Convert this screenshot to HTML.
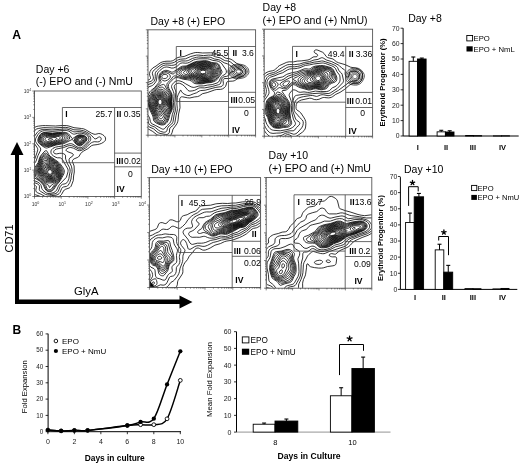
<!DOCTYPE html><html><head><meta charset="utf-8"><style>html,body{margin:0;padding:0;background:#fff;}svg{display:block;filter:blur(0.3px);}text{font-family:"Liberation Sans",sans-serif;}</style></head><body><svg width="520" height="467" viewBox="0 0 520 467" font-family="Liberation Sans, sans-serif">
<rect width="520" height="467" fill="#fff"/>
<text x="12.3" y="38.9" font-size="12.2" text-anchor="start" font-weight="bold" >A</text>
<text x="12.6" y="334.4" font-size="12.0" text-anchor="start" font-weight="bold" >B</text>
<path d="M15,300 V155 H10.5 L17,142 L23.5,155 H19 V300 Z" fill="#000"/>
<path d="M15,299.5 H179.5 V295.5 L192.5,302 L179.5,308.5 V304 H15 Z" fill="#000"/>
<text x="12.7" y="238.5" font-size="11" text-anchor="middle" transform="rotate(-90 12.7 238.5)">CD71</text>
<text x="86.3" y="294.5" font-size="11.3" text-anchor="middle" >GlyA</text>
<text x="35.8" y="72.5" font-size="10.5" text-anchor="start" >Day +6</text>
<text x="35.8" y="84.7" font-size="10.6" text-anchor="start" >(-) EPO and (-) NmU</text>
<clipPath id="p6"><rect x="34.5" y="91" width="106.80000000000001" height="105.5"/></clipPath>
<g fill="none" stroke="#000" stroke-width="0.8" stroke-linejoin="round" clip-path="url(#p6)"><path d="M50.8 174.1l-0.8 0.1-1-0.2-0.6-0.5-0.5-0.7-0.2-1 0.2-0.8 0.6-0.8 0.5-0.3 0.8-0.2 1 0.2 0.7 0.6 0.4 0.7 0.2 1-0.2 0.8-0.4 0.6-0.7 0.5M50.5 175l-1.3-0.1-1-0.4-0.9-1-0.4-1 0-1.3 0.3-0.9 0.8-0.8 1-0.5 1.2 0 1.2 0.5 0.8 0.8 0.6 1.2 0 1.3-0.4 1-0.9 0.8-1 0.4M50.8 175.8l-1.6-0.1-1.2-0.5-1.1-1-0.9-1.4-0.2-1.3 0.2-1.3 1-1.2 1.2-0.7 1.6-0.2 1.4 0.4 1.3 1 0.9 1.5 0.2 1.5-0.4 1.5-1 1.2-1.4 0.6M51 176.5l-1.8 0-1.7-0.7-1.4-1.3-1-1.7-0.4-1.6 0.2-1.4 1-1.3 1.3-0.8 2-0.4 2 0.4 1.6 1.1 1.2 1.7 0.4 2.3-0.4 1.7-0.5 0.7-0.7 0.7-1.8 0.6M51 177.3l-2-0.1-2-0.9-1.6-1.5-1.3-2-0.4-1.8 0.2-1.8 1.1-1.4 1.5-0.9 2.3-0.5 2.4 0.5 2 1.2 1.3 1.9 0.5 1.5 0.2 1.3-0.1 1.2-0.3 0.9-0.6 0.9-0.9 0.7-1.1 0.5-1.2 0.3M50.5 178l-2.3-0.3-2-1.1-2-2.2-1.2-2.4-0.2-2 0.5-1.8 1.3-1.4 1.9-1.1 1.3-0.3 1.4 0.1 1.6 0.3 1.4 0.6 1 0.7 1 1 1.3 2.4 0.3 1.5 0.1 1.5-0.2 1.3-0.5 1-0.8 1-1.2 0.6-1.2 0.4-1.5 0.2M52 178.5l-2.8 0.1-1.2-0.2-1.2-0.6-2.3-2-1.9-2.8-0.4-1.2-0.2-1.3 0.4-2.3 1.4-2 2-1.4 1.2-0.4 1.2 0 1.8 0.3 1.8 0.6 1.2 0.6 1.1 0.9 0.8 1 0.7 1.2 0.6 1.8 0.4 2 0 1.4-0.3 1.3-0.5 1-1 1-1.3 0.6-1.5 0.4M50.8 140.3l-1.2-0.1-0.8-0.2-0.4-0.2-0.1-0.6 0.7-0.4 1-0.2 1.8 0.1 0.7 0.3 0.2 0.2-0.4 0.6-1.5 0.5M52 179.3l-3.2 0-1.3-0.3-1.3-0.6-1.2-1-1.3-1.4-1.2-1.7-0.7-1.5-0.4-1.3-0.1-1.3 0.1-1.2 0.4-1.2 0.7-1.4 1-1.3 1.3-1.1 1-0.6 1.2-0.2 1.5 0.1 2.3 0.6 1.8 0.9 1.4 0.8 0.9 0.9 0.9 1.2 0.6 1.3 0.6 2 0.4 2-0.1 1.5-0.4 1.5-0.7 1.2-1 0.9-1.4 0.7-1.8 0.5M50 141.8l-2.2-0.2-1.8-0.8-0.9-1-0.1-0.8 0.2-0.5 0.6-0.5 0.9-0.5 2.1-0.3 6.2 0.3 1.2 0.2 0.6 0.3 0.1 0.5-0.3 0.5-2.1 1.5-2.3 0.9-2.2 0.4M51.8 180l-3.6 0-1.2-0.3-1.2-0.6-1.3-1.1-1.7-2-1.2-1.8-0.6-1.3-0.3-1.4-0.1-1.5 0.2-1.2 0.4-1.5 1-1.9 1.3-1.7 1-1.1 1-0.6 1.3-0.2 1.7 0.4 2.7 1 2.2 1 1.3 1 1.1 1.2 0.7 1.2 0.7 1.6 0.6 2.3 0.3 2-0.2 1.7-0.5 1.6-0.9 1.2-1.3 1-1.4 0.6-2 0.4M51 142.5l-1.8 0.2-1.4-0.1-1.6-0.4-1.4-0.6-1-0.8-0.5-0.8-0.2-1 0.4-1 0.7-0.8 1-0.4 2.8-0.6 4.8 0.3 5.2-0.1 1.5 0.4 0.7 0.6 0.1 0.6-0.2 0.5-1.4 1-4.7 2.2-3 0.8M80 141.3l-0.8-0.1-0.4-0.4-0.3-1 0.3-0.6 0.4-0.4 1.3-0.3 0.9 0.5 0.3 0.8-0.6 1-1.1 0.5M52 180.8l-4 0-1.2-0.2-1.3-0.6-1.3-1-2-2.5-1.1-1.7-0.7-1.6-0.4-1.4-0.1-1.6 0.5-2.7 0.8-1.8 2.3-3.9 0.7-0.9 0.8-0.5 1-0.1 1.5 0.4 3.7 1.5 2.6 1.4 1.4 1.2 1 1.1 0.9 1.3 0.7 1.8 0.7 2.5 0.2 2-0.1 1.7-0.6 1.8-1 1.5-1.2 1.1-1.8 0.7-2 0.5M51 143.3l-2.2 0.2-2-0.2-2-0.5-1.5-0.8-1-1-0.4-1 0-1.2 0.6-1.5 0.7-0.7 1.1-0.6 1.5-0.4 1.7-0.1 5.3 0.3 6.4-0.3 2.1 0.5 0.8 0.5 0.4 0.5 0.2 0.8-0.3 0.7-1.5 1.3-6.9 2.7-3 0.8M79.8 142.3l-1-0.3-0.9-0.8-0.4-1 0.2-1.2 0.8-0.8 1-0.5 1.3-0.1 1.1 0.4 0.7 0.5 0.2 0.5 0.1 0.5-0.2 0.7-0.5 0.8-0.9 0.8-1.5 0.5M50.8 181.8l-3.8-0.1-1.2-0.4-1-0.6-1.5-1.5-2.3-3-0.9-1.4-0.6-1.8-0.3-2.8 0.5-2.7 3.4-7.3 0.8-1 0.9-0.5 1 0 1 0.4 5 2.5 3.3 2.2 1.3 1.2 1.1 1.5 0.8 1.7 0.7 2.3 0.4 2.3-0.1 2-0.7 2.2-0.9 1.8-1.2 1.2-1.5 0.8-2 0.7-2.2 0.3M50.5 144l-2.5 0.2-2.2-0.2-2-0.7-1.7-1.1-1-1.2-0.3-1.2 0.3-1.8 0.9-1.5 1.5-1.1 2.3-0.5 2.2-0.1 5 0.4 6-0.5 2 0.2 1.4 0.3 1.1 0.6 0.8 1 0.2 0.7-0.2 1-0.9 1-1.1 0.7-1.8 0.8-6.8 2.2-3.2 0.8M80 143l-1.5-0.2-1.2-1-0.6-1.3 0.2-1.5 0.9-1.1 1.2-0.7 1.5-0.3 1.7 0.4 0.9 0.5 0.7 0.7 0.1 0.7-0.1 0.8-0.6 1-1.1 1-1.1 0.7-1 0.3M52 182.8l-2.2 0.2-2.3-0.1-1.5-0.4-1.2-0.7-1.8-1.6-2.4-3-1.1-1.7-0.6-1.5-0.5-3.5 0.4-2.7 2.2-4.8 1.5-3.8 0.9-1.2 1.1-0.7 1 0 1 0.4 5.7 3.3 3.3 2.3 1.3 1.2 1.1 1.5 0.9 1.8 0.8 2 0.5 2.2 0 2-0.5 2.2-1.1 2.5-1 1.3-1.5 1.2-2 1-2 0.6M50 144.8l-2.5 0.1-2.5-0.3-2.2-0.9-1.8-1.3-0.8-1.4-0.2-1.8 0.7-2.2 1.2-1.5 1.3-0.8 2.1-0.5 2.2 0 5.3 0.5 5-0.6 2.4 0 2 0.2 1.7 0.5 1.3 0.7 0.8 1 0.2 1.3-0.3 1-0.9 1-1.5 1-2.4 1-8.9 2.5-2.2 0.5M80 143.8l-1-0.1-0.8-0.3-1.4-1.2-0.8-1.7 0-1 0.3-0.7 1.2-1.5 1.7-0.8 2-0.1 2 0.6 1 0.7 0.6 0.8 0.1 0.7-0.4 1-0.7 1-1.3 1.3-1.3 0.8-1.2 0.5M49.5 187.5l-0.3-0.3-0.3-1.4-0.4-0.6-3-1.7-1.5-1.1-4.3-4.6-1.2-1.9-0.6-2.1-0.3-3.8 0.5-2.5 2.1-4.4 1.8-4.9 1.2-1.5 1.6-0.7 0.7 0 1 0.4 2.5 1.8 4.2 2.7 3.6 2.6 1.3 1.5 1.2 2 1 2.2 0.5 2 0.1 1.8-0.3 2-1 2.8-1.1 2-2 2.1-5.2 3.3-0.6 0.8-0.7 1.2-0.5 0.3M49.5 145.5l-2.7 0.2-2.6-0.5-2.4-1.2-1.9-1.8-0.6-1.7 0.2-2 1-2.4 1.5-1.6 1.5-0.6 1.7-0.3 2.3 0.1 5 0.4 5.7-0.6 3.8 0 2 0.3 1.5 0.5 1.3 0.9 0.8 1 0.4 1.6-0.4 1.2-1.3 1.2-2.1 1.3-2.4 0.9-4.6 1-5.4 1.7-2.3 0.4M79.8 144.5l-1-0.1-1-0.5-0.9-0.7-0.9-1-0.5-1-0.2-1 0-1 0.3-0.7 0.8-1 0.8-0.7 2-0.9 2.6 0.1 2.3 0.8 1 0.7 0.5 1 0 1-0.4 1-1 1.3-2 1.6-1.2 0.8-1.2 0.3M50.2 189.8l-1.4 0.1-1.3-0.8-0.6-0.9-1.2-3-7.7-7.7-0.7-1-0.4-1.3-0.2-5.4 0.4-2.3 2.4-4.5 1.3-4.2 0.7-1.4 1.7-1.9 1.8-0.8 0.8 0 0.7 0.4 2.7 2.4 4 2.6 4.5 3.4 1.5 1.7 1.2 2 0.9 2 0.5 1.8 0.1 1.5-0.3 1.7-1.2 3.3-1.2 2.3-1.2 1.7-3.7 3.5-2.6 3.8-1.5 1M48 146.5l-2.8-0.1-2.2-0.8-2.6-1.8-1-1-0.5-1-0.3-1-0.1-1 0.7-2.6 1.3-2.2 1.7-1.4 1.3-0.4 1.7-0.2 7.3 0.6 6-0.6 5.5 0 1.8 0.4 1.3 0.6 1.2 1 1 1.5 0.4 1.5-0.4 1.2-1.4 1.3-3.1 1.7-2.6 1-5.2 0.9-6.5 2-2.5 0.4M80.8 145l-0.8 0.2-1 0-1-0.4-1-0.7-1-0.9-0.9-1.2-0.7-2 0.2-1.2 1.1-1.6 1.8-1.2 2-0.6 2.3 0 2.4 0.8 1.6 1 0.5 1.3-0.1 1.5-1 1.4-2.7 2.6-1.7 1M50.5 190.8l-1 0.2-1-0.1-1.6-0.9-1-1.2-1.2-3-1.2-1.8-3.3-3.3-4.1-3.2-0.6-1.3 0.3-3.4-0.1-3.6 0.4-1.7 2.7-4.5 1.4-4.8 0.8-1.6 2-2.2 1.2-0.9 1-0.4 0.8 0 0.5 0.2 3.1 3.5 7.4 5.2 1.7 1.5 1.5 1.7 1.4 2.3 1 2 0.4 1.5 0 1.5-0.4 1.5-2.9 6.2-1.1 1.6-3 3.2-2.9 4.2-1.1 1-1.1 0.6M47.5 147.8l-1 0.2-1-0.2-2.7-1.4-3.3-2.6-0.8-1-0.7-1.3-0.2-1 0.1-1.3 1.3-3.2 1.6-2.1 2-1.1 1.2-0.3 1.8 0 6.7 0.6 5.7-0.6 5-0.2 2 0.1 1.8 0.5 1.5 0.9 1.3 1.4 2.2 3.2 0.5 0.3 4.5-3.1 1.5-0.6 1.5-0.2 2.5 0.3 2.3 0.7 1.4 1.1 0.7 1.3 0.1 0.8-0.2 1-1 1.7-3.6 3.2-1.7 1-0.7 0-1-0.1-2-1.1-1.8-1.7-2.2-3.2-0.6-0.4-6 3.1-2.4 1.1-7.8 1.4-8.5 2.8M50.8 191.5l-1.3 0.2-1.3-0.1-1-0.4-0.9-0.7-1.2-1.5-1.7-3.8-1.4-2-2.8-2.5-4.2-2.5-0.6-0.7-0.3-1 0-1 0.6-3-0.1-3.7 0.5-1.6 3.1-4.7 1.4-4.7 0.9-1.8 3.5-4.1 1-0.9 0.8-0.3 0.7 0.1 0.5 0.4 1.9 3.6 1.2 1.4 8.5 6 1.6 1.6 3.1 4.4 0.7 1.6 0.3 1.2-0.1 1.5-0.4 1.5-3.7 6.8-3.3 4-3.3 5-1.3 1-1.4 0.7M32.5 166.3l3.5-5.1 2-5.7 2.7-5.5 0-1-0.3-1-4-5-0.8-1.5-0.3-1.5 0.5-1.8 2.4-4 1.2-1.4 1.6-1.2 1.5-0.6 1.7-0.3 8 0.7 11.8-1 2.2 0 1.5 0.4 1.3 0.4 3.2 2.4 1.3 0.5 1.3 0 2.7-0.8 1.7-0.2 2 0.1 2.8 0.6 1.5 0.6 1.3 0.7 1 0.9 0.7 1 0.3 1 0.1 1.2-0.2 1-0.7 1.3-1.3 1.5-3.2 3.2-1.3 1-1 0.4-1.2 0.3-1.5-0.3-1.5-0.7-4-2.6-1.2-0.5-1.6-0.1-2 0.4-4.7 1.8-5.3 0.7-2.7 0.6-2.5 1.1-1.5 1.5-0.5 1.1-0.1 1.3 0.3 1.3 0.6 1 1.7 1.5 2.5 1.4 1.5 0.4 2.7 0 1.3 0.7 2 2.6 2.1 4.1 1.7 2.8 0.5 1 0.3 1.2-0.1 1.3-0.3 1.5-0.9 3-0.6 1.5-6.7 7-1.1 1.7-1.7 3.8-1.6 1.8-2 1-3.1 0.6-2 0.1-1.8-0.6-2.2-1.7-1.7-1.7-0.5-1-0.7-3-0.5-1-0.8-1-2-1.4-4-1.6-1.3-1.1M32.5 162.7l1.4-1.9 0.9-1.8 2.4-7 0.6-2.2-0.1-1-0.4-1-2.9-4.3-1.1-2-0.3-1.5 0.1-1.2 0.7-1.6 3.6-5 1.1-1 1.7-1 2-0.7 1.8-0.2 8 0.6 7.8-0.5 4.4-0.4 2.6 0 2.2 0.6 3.5 1.7 1.3 0.5 1.2 0.1 3-0.3 1.8 0 2.2 0.3 2.5 0.7 2 0.9 1.7 1.2 1.4 1.3 0.8 1.2 0.3 1.3 0 1-0.3 1-0.7 1-4.9 5.4-1.8 1.3-1.5 0.7-1.5 0.3-1.5-0.2-5.5-2.9-1.8-0.5-1.4 0-1.8 0.3-4.5 1.7-6.9 1.4-1.6 0.8-1 1-0.3 0.7 0 1 0.5 0.7 0.8 0.5 1.5 0.2 3.3-0.6 2 0 2 0.5 1.4 1 0.4 1-0.1 2.2 0.3 1.5 1.7 4.3 2 3.7 0.6 2.5 0 1.8-0.7 3.2-0.5 3.5-0.4 1.4-0.7 1.5-1 1.4-0.8 0.6-0.9 0.4-2.6 0.5-1.5 1.1-1 1.5-1.6 4.1-1.4 1.8-1 0.6-1.2 0.4-5.3 0.9-2.3 0.2-1.7-0.5-5.1-3.2-0.8-0.7-0.3-1 0.2-3.3-0.4-1-0.6-0.7-1.3-0.8-3.2-1.2-1.5-0.9M32.5 135.2l1.6-3.7 0.7-1 1.4-1.3 2-0.7 5.6-0.9 9.7 0.4 9.5-0.6 2.8 0 2.7 0.4 5.4 2 6.1 0.2 3.8 0.8 2.4 1.1 3.5 2.1 1.8 1.5 2.5 2.7 0.8 0.6 0.4 0.1 0.8-0.1 2.5-1.6 1-0.3 0.7 0.3 0.6 0.4 0.3 0.6 0.1 0.8-0.2 0.8-0.5 0.8-0.7 0.6-0.8 0.5-1.5 0.2-3.3-0.2-1.4 0.4-1.3 0.6-1.9 1.3-2.6 2.8-1.4 1.2-2.6 1.6-2 0.9-1.5 0.2-1.5-0.2-4.5-2.3-1.4-0.4-1.3-0.3-1.3 0.1-1.3 0.4-1.3 0.8-0.8 0.7-0.2 0.7 0.6 0.8 1.4 0.8 4.3 1.6 0.8 0.6 0.4 0.8-0.5 1-3.2 2.4-0.5 0.8-0.2 0.8 0.3 2.2 2.1 4.2 0.6 3 0.1 2.6-0.7 3.4-0.4 3.8-1.2 3.5-1.6 2.7-0.7 0.7-1 0.5-3.1 0.6-1 0.5-0.7 1-1.7 4-1 1.2-1 0.8-2 0.7-4.5 0.4-4.3 0.9-1.4 0-1.3-0.3-3.3-1.9-3.4-1.4-1.3-0.8-0.5-0.9-0.2-1 0.6-3 0-0.7-0.7-0.7-3.2-2.1M32.5 158.3l1.7-3.8 0.5-3-0.4-2.3-1.8-4.4M32.5 128.8l2-1.4 2.3-1 1.7-0.3 4.3-0.5 2.7 0 10 0.4 6.7-0.5 4.6 0.1 2.2 0.5 5 1.6 7.5 0.8 2.3 0.4 2 0.9 5.7 3.4 2.5 1 1.5 0.1 3.3-0.8 2 0.3 1.7 0.8 1.6 1.2 0.9 1 0.5 1.2 0.1 1.2-0.3 1.3-0.6 0.7-1.2 1-2 1.2-1.7 0.6-2.6 0.6-4.2 0.5-1.7 0.7-3.5 2.9-4.1 2.3-2.1 1.5-1.1 1.3-1.3 2.3-0.8 0.9-1.2 0.6-3 1.2-1.2 0.9-0.5 0.8-0.1 1 1.7 4.5 0.2 6-0.7 4-0.3 4.5-1.7 4.5-0.7 1.5-0.7 0.7-1 0.8-4 1.4-0.9 0.6-0.8 1-2 3.5-1.3 1.3-1.2 0.9-1 0.4-1.2 0.2-3.6-0.3-1.6 0-1.1 0.3-2.5 0.9M43.9 198.2l-1.7-0.6-3.2-1.7-3.2-1-1.3-0.6-1.2-1.1-0.8-1.5"/></g>
<rect x="34.5" y="91" width="106.80000000000001" height="105.5" fill="none" stroke="#555" stroke-width="0.9"/>
<path d="M34.50,196.50v2.2 M34.50,196.50h-2.2 M42.54,196.50v1.2 M34.50,188.56h-1.2 M47.24,196.50v1.2 M34.50,183.92h-1.2 M50.58,196.50v1.2 M34.50,180.62h-1.2 M53.16,196.50v1.2 M34.50,178.06h-1.2 M55.28,196.50v1.2 M34.50,175.98h-1.2 M57.06,196.50v1.2 M34.50,174.21h-1.2 M58.61,196.50v1.2 M34.50,172.68h-1.2 M59.98,196.50v1.2 M34.50,171.33h-1.2 M61.20,196.50v2.2 M34.50,170.12h-2.2 M69.24,196.50v1.2 M34.50,162.19h-1.2 M73.94,196.50v1.2 M34.50,157.54h-1.2 M77.28,196.50v1.2 M34.50,154.25h-1.2 M79.86,196.50v1.2 M34.50,151.69h-1.2 M81.98,196.50v1.2 M34.50,149.60h-1.2 M83.76,196.50v1.2 M34.50,147.84h-1.2 M85.31,196.50v1.2 M34.50,146.31h-1.2 M86.68,196.50v1.2 M34.50,144.96h-1.2 M87.90,196.50v2.2 M34.50,143.75h-2.2 M95.94,196.50v1.2 M34.50,135.81h-1.2 M100.64,196.50v1.2 M34.50,131.17h-1.2 M103.98,196.50v1.2 M34.50,127.87h-1.2 M106.56,196.50v1.2 M34.50,125.31h-1.2 M108.68,196.50v1.2 M34.50,123.23h-1.2 M110.46,196.50v1.2 M34.50,121.46h-1.2 M112.01,196.50v1.2 M34.50,119.93h-1.2 M113.38,196.50v1.2 M34.50,118.58h-1.2 M114.60,196.50v2.2 M34.50,117.38h-2.2 M122.64,196.50v1.2 M34.50,109.44h-1.2 M127.34,196.50v1.2 M34.50,104.79h-1.2 M130.68,196.50v1.2 M34.50,101.50h-1.2 M133.26,196.50v1.2 M34.50,98.94h-1.2 M135.38,196.50v1.2 M34.50,96.85h-1.2 M137.16,196.50v1.2 M34.50,95.09h-1.2 M138.71,196.50v1.2 M34.50,93.56h-1.2 M140.08,196.50v1.2 M34.50,92.21h-1.2 M141.30,196.50v2.2 M34.50,91.00h-2.2" stroke="#333" stroke-width="0.6" fill="none"/>
<path d="M62.4,162.7V107.5H141.3 M62.4,162.7H114.6 M114.6,107.5V196.5 M114.6,153.1H141.3 M114.6,166.8H141.3" fill="none" stroke="#444" stroke-width="0.8"/>
<text x="65.3" y="117.3" font-size="8.6" text-anchor="start" font-weight="bold" >I</text>
<text x="112.3" y="117.3" font-size="8.6" text-anchor="end" >25.7</text>
<text x="116.6" y="117.3" font-size="8.6" text-anchor="start" font-weight="bold" >II</text>
<text x="140.5" y="117.3" font-size="8.6" text-anchor="end" >0.35</text>
<text x="116.2" y="163.8" font-size="8.6" text-anchor="start" font-weight="bold" >III</text>
<text x="140.8" y="163.8" font-size="8.6" text-anchor="end" >0.02</text>
<text x="130.4" y="177.3" font-size="8.6" text-anchor="middle" >0</text>
<text x="116.6" y="192.3" font-size="8.6" text-anchor="start" font-weight="bold" >IV</text>
<text x="31.3" y="198.3" font-size="5" text-anchor="end" fill="#333">10<tspan dy="-2" font-size="3.6">0</tspan></text>
<text x="35.5" y="205.5" font-size="5" text-anchor="middle" fill="#333">10<tspan dy="-2" font-size="3.6">0</tspan></text>
<text x="31.3" y="171.9" font-size="5" text-anchor="end" fill="#333">10<tspan dy="-2" font-size="3.6">1</tspan></text>
<text x="62.2" y="205.5" font-size="5" text-anchor="middle" fill="#333">10<tspan dy="-2" font-size="3.6">1</tspan></text>
<text x="31.3" y="145.6" font-size="5" text-anchor="end" fill="#333">10<tspan dy="-2" font-size="3.6">2</tspan></text>
<text x="88.9" y="205.5" font-size="5" text-anchor="middle" fill="#333">10<tspan dy="-2" font-size="3.6">2</tspan></text>
<text x="31.3" y="119.2" font-size="5" text-anchor="end" fill="#333">10<tspan dy="-2" font-size="3.6">3</tspan></text>
<text x="115.6" y="205.5" font-size="5" text-anchor="middle" fill="#333">10<tspan dy="-2" font-size="3.6">3</tspan></text>
<text x="31.3" y="92.8" font-size="5" text-anchor="end" fill="#333">10<tspan dy="-2" font-size="3.6">4</tspan></text>
<text x="142.3" y="205.5" font-size="5" text-anchor="middle" fill="#333">10<tspan dy="-2" font-size="3.6">4</tspan></text>
<text x="150.5" y="24.6" font-size="10.5" text-anchor="start" >Day +8 (+) EPO</text>
<clipPath id="p8a"><rect x="148" y="29.8" width="107.6" height="105.39999999999999"/></clipPath>
<g fill="none" stroke="#000" stroke-width="0.8" stroke-linejoin="round" clip-path="url(#p8a)"><path d="M204.2 73.6l-1.7 0.2-1.5-0.4-0.9-0.8-0.2-0.6 0.2-0.4 0.8-0.8 1.3-0.5 1.6 0 1.2 0.3 0.8 0.7 0.2 0.8-0.6 0.9-1.2 0.6M160.5 104.6l-0.7 0-0.8-0.4-0.5-0.8-0.3-0.8 0-1 0.3-1 0.5-0.7 0.8-0.4 0.7 0 0.5 0.3 0.6 0.8 0.3 1 0 1-0.3 1-0.6 0.7-0.5 0.3M204.2 74.3l-2.2 0.1-1.8-0.6-0.7-0.5-0.5-0.7-0.1-0.8 0.3-0.5 1.1-1 1.9-0.6 2 0 1.9 0.6 0.9 1 0.2 0.5-0.2 0.8-1 1-1.8 0.7M160.5 105.6l-1-0.1-1-0.7-0.6-1-0.3-1.2 0-1.3 0.4-1.3 0.8-1 1-0.4 1 0.1 0.8 0.6 0.7 1 0.3 1.3 0 1.2-0.4 1.2-0.7 1-1 0.6M204.5 75.1l-2.5 0-1.2-0.3-1.3-0.6-0.9-0.6-0.5-0.8-0.2-1 0.3-0.8 0.7-0.7 0.9-0.5 2.4-0.7 2.6 0 2.2 0.8 0.8 0.7 0.4 0.7 0.1 0.7-0.3 0.8-0.5 0.8-1 0.7-2 0.8M160.2 106.6l-1.2-0.3-1-1-0.8-1.5-0.3-1.8 0.3-1.7 0.6-1.3 1-0.9 1.2-0.4 1.2 0.3 1 0.8 0.8 1.2 0.4 1.8-0.2 1.8-0.7 1.4-1 1.1-1.3 0.5M205 75.8l-1.5 0.2-1.7-0.2-1.6-0.4-1.4-0.8-1-0.8-0.8-1-0.1-1 0.3-1 0.7-0.8 1.2-0.7 1.2-0.5 1.7-0.4 3.2 0.1 1.6 0.4 1.2 0.6 0.9 0.8 0.4 0.7 0.1 0.8-0.2 1-0.7 1-1 0.9-1.3 0.7-1.2 0.4M160.5 107.6l-0.7 0-0.8-0.3-1.2-1.1-1-1.8-0.5-2.1 0.2-2 0.7-1.7 1-1.1 1.6-0.6 1.4 0.3 1.6 1.1 1 1.5 0.4 2-0.2 1.9-0.8 1.7-1.2 1.4-1.5 0.8M205.5 76.6l-1.7 0.2-1.8-0.2-1.8-0.5-1.5-0.8-1.5-1-1.1-1.3-0.5-1.2 0.3-1 0.9-1 1.2-0.8 1.7-0.7 1.8-0.4 2-0.2 1.9 0.1 1.6 0.4 1.5 0.7 1 0.7 0.7 1 0.3 1-0.2 1.2-0.8 1.2-1.3 1.3-1.2 0.8-1.5 0.5M160.8 108.6l-1 0.1-0.8-0.2-1.5-1.3-1.3-2.3-0.6-2.6 0.2-2.3 0.9-2 1.3-1.2 1.8-0.6 1.7 0.3 1.8 1.3 1.2 1.9 0.5 2.1-0.1 2-0.9 2-1.5 1.8-1.7 1M205.8 77.3l-2 0.2-1.8-0.2-1.5-0.4-1.7-0.8-2.4-1.5-1.7-1.6-0.8-1.2 0.1-1 1-1 2.2-1.2 1.9-0.8 2.1-0.5 2.3-0.2 2 0 1.7 0.4 1.8 0.8 1.4 1 0.8 1 0.3 1.3-0.3 1.2-0.8 1.5-1.4 1.5-1.5 1-1.7 0.5M160 110.1l-1-0.2-0.8-0.4-1.4-2-1.4-2.9-0.5-3 0.4-2.3 1.2-2.2 1.5-1.2 1-0.4 1-0.1 1.2 0.2 1 0.5 2 1.7 1.3 2.2 0.4 2.6-0.3 2.2-1.1 2-2.5 2.4-1 0.6-1 0.3M205.2 78.1l-2 0-1.7-0.2-1.5-0.4-1.5-0.8-6.3-4.1-0.6-1-0.1-0.6 0.3-0.7 0.7-0.7 1.7-0.8 4.6-1.6 3-0.6 2.2-0.2 2 0.1 1.8 0.5 2 1 1.5 1 0.9 1.3 0.2 1.3-0.3 1.4-1.3 2.1-1.8 1.7-1.5 0.8-2.3 0.5M160 111.6l-1-0.1-0.8-0.4-0.7-0.7-0.7-1.1-2-4.5-0.6-2-0.1-1.5 0.2-1.3 0.4-1.2 1.4-2.2 0.9-0.9 1-0.6 2-0.4 1.2 0.2 1.3 0.5 1.3 0.9 1.2 1.3 0.8 1.2 0.5 1.2 0.4 3.3-0.2 2.1-0.8 1.6-3.7 3.5-1 0.7-1 0.4M206.2 78.6l-4.2 0.1-1.5-0.3-1.3-0.5-8.5-4.9-0.5-0.5-0.3-0.7 0-0.8 0.2-0.7 1.1-1.3 1.6-0.8 6-1.6 2.4-0.6 2.6-0.2 2 0.1 2 0.5 2.1 0.9 1.9 1.3 1.1 1.2 0.4 1.2-0.2 1.6-1.2 2.2-1.9 2.2-1.6 1-2.2 0.6M160.5 112.9l-1 0.1-1-0.3-1-0.7-0.8-1-0.9-1.7-1-2.6-1.3-3.4-0.3-1.7 0.1-1.3 0.5-1.3 1.8-3 1.9-1.5 1-0.4 1.3-0.2 1.4 0.1 1.6 0.7 1.5 1.1 1.5 1.5 0.7 1.2 0.5 1.3 0.6 4.2-0.1 2.3-0.7 1.4-5 4.4-1.3 0.8M204.5 79.3l-2.7 0-1.8-0.3-5-2.9-5-2.2-1.1-0.9-0.4-0.7 0-1 0.4-1 1.6-1.7 2-1.2 6-1.4 3.5-0.7 2.5-0.2 1.8 0.2 2.2 0.7 2.7 1.3 1.7 1.3 1.1 1.4 0.2 1.8-0.8 2-1.9 2.8-1.7 1.5-2 0.8-3.3 0.4M160.5 114.3l-1 0-1.3-0.5-1-0.8-1-1.2-1.4-3-2.3-5.8-0.4-1.4 0.2-1.3 0.6-1.3 1.3-2.3 1.3-1.6 2-1.5 1.3-0.4 1.2-0.2 1.5 0.2 1.7 0.8 2 1.5 1.4 1.5 0.7 1.3 0.5 1.5 0.7 5.5-0.2 2-0.7 1.3-3.1 2.3-2.7 2.8-1.3 0.6M205.2 79.8l-3.7 0.2-2.3-0.5-4.3-2.7-5.2-2-2-1-0.9-1-0.1-0.5 0.2-0.7 1.2-1.8 1.9-1.8 1.8-1 2.2-0.8 6-1.2 4.2-0.5 2.6 0.3 2.7 1 3 1.5 1.7 1.4 0.9 1.6 0.1 1-0.2 1-0.7 1.5-1.3 2-1.1 1.5-1.1 1-2.1 1-3.5 0.5M160.8 116.1l-1-0.2-1.3-0.7-1.5-1.3-1.2-1.5-1.4-2.6-3-7-0.3-1.2 0.1-1 0.4-1 3.6-5.3 1-0.9 1.3-0.8 1.3-0.4 1.2-0.2 1.5 0.2 1.7 0.7 2.8 2.1 1.4 1.6 0.6 1.1 0.4 1.3 0.8 6.8-0.2 2-0.8 1.4-3.4 2.8-2.8 3.4-1.2 0.7M203 80.6l-2.2 0-1.8-0.4-3.5-2.3-1.5-0.8-9.4-3.1-0.9-0.7-0.2-0.5 0.1-0.5 0.6-0.7 2-1.4 3-2.4 2.6-1.5 3.2-1 7.2-1.2 2.8-0.2 2 0.3 5.2 2.2 2.4 1.4 0.8 1 0.5 1 0.2 1-0.1 1.2-0.8 2-2.7 3.8-1.5 1.2-1.8 0.8-6.2 0.8M161 118.8l-0.9-0.2-0.9-0.8-4.1-5.2-4.6-9.6-0.4-1.7 0.2-1 0.4-1 4.5-6.1 1.3-1.1 1.3-0.7 1.2-0.4 1.2-0.2 1.6 0.2 1.7 0.8 3.3 2.5 1.4 1.5 0.4 1 0.4 1.2 0.8 8-0.2 2-0.6 1.6-3.8 3.4-2.7 5-0.7 0.6-0.8 0.2M201.8 81.3l-1.8 0-1.5-0.4-3.7-2.6-2.4-1-3.6-1-4.3-0.7-1.3-0.4-1-0.7-0.9-0.9-0.4-1 0.2-0.8 0.5-0.8 0.7-0.4 3.7-1.4 4.1-2.6 2.7-1.3 3-0.9 7.2-1 2.2-0.2 2 0.4 6.7 2.7 1.6 1 0.8 1 0.5 1.3 0.3 1.4-0.1 1.3-0.9 2-3.1 4.1-1.5 1.2-1.7 0.7-8 1M161.8 120.8l-1 0-1-0.3-0.8-0.5-0.8-0.9-1.4-2.8-2.2-3.3-1.2-2.2-3.7-7.8-0.4-1.7 0.1-1.3 0.5-1 2.1-2.6 3-4.2 1.5-1.3 1.5-0.9 1.5-0.6 1.3-0.2 1.2 0.2 1.5 0.8 4.3 3.5 1.2 1.5 0.6 2.1 0.8 9-0.2 2-0.6 1.5-3.6 4-0.6 1.2-1.1 3.3-0.7 1.3-0.8 0.8-1 0.4M202.8 81.8l-2.3 0.2-2-0.2-1.6-0.8-2.9-2.2-1.7-0.8-3.5-0.9-4.6-0.5-1.7-0.5-1.7-1.1-1.4-1.2-0.4-1 0.1-1 1-1.2 1.5-1 4.6-1.4 4.3-2.5 2.5-1.1 3.8-1 7-1 2.2 0 1.5 0.4 3.7 1.5 3.6 1.1 1.2 0.7 1 1.2 0.7 1.5 0.4 1.8 0 1.5-0.8 2-3.1 4-1.7 1.5-1.7 0.8-1.8 0.4-6.2 0.8M165.2 78.6l-1.7 0-0.7-0.3-0.8-0.7-0.2-1.3 0.3-0.7 0.7-0.6 1.2-0.6 1.2 0 1.5 0.4 0.8 0.8 0.2 0.7-0.4 1-0.9 0.7-1.2 0.6M162.2 122.1l-1.4 0-1.3-0.3-1.2-0.8-0.9-1-1.6-3.7-3-5.3-3.7-7.7-0.6-2.3 0.2-1.2 0.4-1 2.5-3 1.9-3.1 1-1.3 2-1.8 2-1.5 1.7-0.8 1.6-0.2 1 0.2 1 0.7 2 2.3 3 2.8 1 1.5 0.5 2.2 0.1 4.2 0.5 5.8-0.1 1.6-0.5 1.4-0.8 1.2-2.5 3.3-2 5.6-1.1 1.4-1.7 0.8M202.2 82.6l-2.2 0.1-2.2-0.3-1.8-0.8-2.8-2.2-1.9-0.8-2.8-0.8-4.5-0.3-2-0.5-4.7-2.7-0.5-0.7 0.2-1 0.5-1 0.9-1 2.6-1.9 1.5-0.5 3.7-0.8 6.6-3.4 3.4-1.1 7.6-0.9 2.2 0 1.8 0.4 4 1.6 4 0.8 1.2 0.7 0.8 1 0.5 1.3 0.9 3 0.2 1.5-0.3 1-0.6 1-3.3 4.3-1.7 1.5-2.3 1-1.7 0.4-4.3 0.5-3 0.6M165.8 80.8l-1.6 0.2-1.7-0.8-1.4-1.4-0.6-1.5 0.1-1.5 0.9-1.4 1.5-1.1 1.8-0.4 1.7 0 1.8 0.7 1.5 1.2 0.5 1.2-0.2 1.6-0.9 1.2-1.4 1.1-2 0.9M162.8 123.1l-1.8 0.1-1.8-0.5-1.6-0.9-1.3-1.2-0.5-1-1-3.6-3.4-6.2-3.1-6.8-0.4-1.2-0.1-1.2 0.2-1.3 0.6-1.3 2.3-2.7 1.9-3.3 1.3-1.4 3.4-3.3 1.5-1.2 2.5-1.2 2-0.5 0.7 0.3 0.6 0.5 1.8 3.8 2.9 3.6 1.1 2 0.4 2-0.1 4.7 0.4 6-0.1 1.5-0.4 1.2-2.7 4.3-1.3 4.3-0.8 1.8-0.8 1.1-0.7 0.8-1.7 0.8M162.5 124.1l-2-0.1-2-0.7-2.1-1.3-1.2-1.2-0.5-1-0.9-3.8-3.4-6.7-1.2-3.3-1.7-3.4-0.4-2 0.2-1.6 0.6-1.4 2.3-3 1.7-3 5.6-5.9 2.9-2.4 0.5-0.7 0.1-1-1.2-2.8-0.3-1.8 0.4-1.7 0.9-1.5 1.1-1 1.3-0.7 1.6-0.5 1.2-0.1 2 0.4 4 2 1.2 0.1 1-0.7 3.3-3.3 3.5-2.2 1.5-0.6 4-0.7 7-3.4 3.3-1 7.2-0.8 2.2 0.1 1.6 0.3 4 1.5 4.4 0.6 1 0.5 0.7 0.5 0.9 1.2 1.7 5 0.2 1-0.2 1-0.9 1.6-3.8 4.8-2 1.4-2.3 0.9-5.7 0.8-4.3 0.8-3.5-0.1-2.6-0.6-3.2-2.6-2.4-1-2-0.3-4.8-0.4-4.5-1.7-2.5-0.6-1.8-0.1-0.7 0.3-0.5 0.5-2.3 3.1-3.2 3-0.5 1-0.1 1 0.2 1.8 0.5 1.7 2.9 4.3 1 2.4 0.1 2-0.2 4.8 0.4 5.5-0.2 2-0.6 1.7-1.9 3.3-1.3 4.5-1.1 2.5-0.9 1.2-1 0.8-1 0.5-1.3 0.3M163.8 124.8l-2.3 0.2-2.5-0.6-3.1-1.6-1.8-1.5-0.6-1.3-0.3-2.4-0.4-1.6-2.9-6-1.4-4-1.8-3.7-0.3-1.7 0.1-1.6 0.5-1.6 2.8-5.6 0.9-1 3.8-3.1 4.5-5.4 0.3-1.3-0.5-3 0.1-1.7 0.5-1.7 1-1.6 1.1-0.9 1.5-0.9 1.5-0.7 1.3-0.2 2 0.2 3.7 1.6 1 0 0.7-0.1 8-5.4 1.3-0.4 2.7-0.2 1.6-0.3 7.2-3.5 3-0.9 7.2-0.6 2.3 0 1.5 0.4 3.8 1.4 4.8 0.5 1.2 0.5 0.7 0.5 1.1 1.6 1 3 1.2 2.4 0.2 0.8-0.1 0.8-0.6 1.2-4.5 6-1.3 1-2.3 1.1-2.2 0.6-4.8 0.5-4.4 0.9-5.8-0.1-2-0.6-2.7-2.2-1.8-0.8-1.7-0.4-4.3-0.5-4.7-1.5-2.3-0.3-1.5 0.3-1.2 0.7-4.2 4.3-1.1 1.7-0.2 1.8 0.5 2 2.4 4 0.9 2.5 0.1 2-0.3 5 0.4 5.5-0.1 1.7-0.5 1.8-1.8 3.8-1.1 4.2-0.9 2.2-0.8 1.3-1.1 1.2-1.1 0.8-1.1 0.5M146 90.2l0.8-1.5 1-1.1 1.2-0.8 2.2-0.8 1.3-0.6 1.3-1 1.1-1.4 1-1.4 0.6-1.6 0.6-5 0.6-2 0.9-1.2 1.1-1.2 3.1-2.5 1.7-0.8 1.7-0.3 1.8 0.1 3.8 1 2-0.2 3-1.3 3-2.8 1-0.6 1.7-0.3 3.3 0.3 1.7-0.2 2-0.7 4-2.3 2.3-0.7 3.2-0.5 8.5 0 1.7 0.3 3.6 1.3 4 0.5 1.7 0.5 1.7 0.9 1.7 1.5 2.1 3.2 1.6 2 0.7 1.6 0.1 1.7-0.6 1.3-0.8 0.7-2.5 1.5-1.3 1.2-0.8 1.3-1.2 2.7-0.7 1.1-1.5 0.9-4.8 1.6-4.7 0.5-3.7 0.8-4.9 0.1-4.1 1.3-1.6 0.1-2-0.5-5.4-3-3.1-1.9-2.7-1-1.8-0.3-1.4 0.2-1.6 0.6-1.4 1.1-1.6 2-0.5 1-0.2 1 0.3 1.4 1.6 3.6 0.6 2.2 0 2.8-0.6 6 0.5 6-0.2 2-1.3 3.7-1.1 5.7-0.7 2-1 1.3-2.8 2.7-2 2.4-1 0.7-1 0.1-1-0.4-6.6-3.5-3-1.4-1.3-1.1-0.5-1.2-0.8-3.8-2.2-3.5-0.5-1.3-0.2-1.4 0.2-4-0.3-1.3-0.6-1.3M146 86.2l1.5-1.4 4.3-1.6 1-0.6 1-1 0.9-1.6 0.5-1.4 0.1-1.8-0.1-3 0.4-1.5 0.9-1.3 3-2.8 2.5-2 1.8-0.8 2-0.4 1.7 0 4 0.4 2.5-0.3 1.8-0.7 2.4-2.3 1.6-0.8 2-0.4 3.7 0.1 1.7-0.2 1.5-0.5 3.8-1.9 4-1.1 2.3-0.3 4.7 0.4 5.7-0.3 1.6 0.3 3.4 1.5 4.8 0.9 1.5 0.7 3.7 2.3 3.6 1.2 1.2 0.7 4.5 3.1 0.9 1 0.4 1 0 0.8-0.7 0.7-0.9 0.4-2.1 0.3-0.8 0.6-1.5 2.4-0.8 0.8-1.2 0.5-2.8 0.5-1.5 0.9-1 1.6-0.8 3.7-0.9 1.2-1.3 0.5-6.3 1.8-7.7 1.4-3.7-0.1-1.3 0.1-1.3 0.5-2.2 1.3-1.5 0.7-2.3 0.5-2.2 0.2-1-0.1-1-0.6-3.2-3.8-2-1.8-1.8-1-1.5-0.5-1.5-0.1-1.4 0.4-1.1 0.7-1 1.3-0.3 1.2 0.3 1.2 1.1 2.8 0.3 1.5-1.1 10.7 0.1 2 0.5 4-0.1 2-1.2 4-1 6.3-0.5 1.5-0.9 1.2-2.5 1.9-1 1.1-0.7 1.3-0.7 2.6-0.5 0.7-0.5 0.3-1 0.3-1.3 0-3-0.8-1.7-1-4.2-3.4-3.6-1.4-1-0.7-0.8-0.7-0.5-0.9-0.4-1.3-0.7-3.2-1.6-2.8M146 83.3l1.5-0.9 3.5-1.1 1.5-1.1 0.6-0.9 0.3-1.3-0.1-1.2-0.9-3 0-1 0.5-1.2 1.4-1.8 6.7-5.2 2-0.9 2.2-0.5 5.8 0 2-0.4 1.5-0.6 2.7-1.9 1.6-0.7 1.7-0.4 5-0.4 5.3-2.3 5.7-1.4 2.3 0 4.7 0.5 5-0.5 2.3 0.1 1.7 0.3 3.3 1.4 4.2 0.9 4.2 2.5 1.3 0.4 3.3 0.5 1.7 0.8 6.7 5.5 4 2.6 0.8 0.7 0.4 1-0.2 1.2-0.8 0.8-3.6 1.3-3.8 2.2-5.2 1.3-3.8-0.1-1.2 0.4-0.6 0.6-0.2 0.8 0.4 3-0.2 1.3-0.3 0.7-0.7 0.7-1.4 0.7-5 0.7-10.6 2.8-4.7 0.4-1.2 0.4-2.8 1.8-3.3 1.1-3 1.3-1.2 0.3-1.2 0-1.3-0.3-2.5-1.2-1.5-1.2-0.8-1-0.9-1.7-0.3 0.1-2.4 4.6-0.8 2.5-0.4 6.7 0.4 4.3 0 1.7-1.3 5.8-1.1 6.8-0.5 1.2-0.9 1.2-2.7 2.2-0.8 0.8-0.4 1-0.2 3.3-0.5 1-0.9 0.8-1.2 0.4-1.6-0.1-5.2-1-1.8-0.7-1.2-0.9-3.5-3-3.5-1.5-1.6-1-1.5-1.7-0.9-2M146 81l3.5-1.5 0.6-0.5 0.3-0.4 0.1-1-0.8-2.3-0.2-1.7 0.5-2 1.1-1.8 1.7-1.8 3.2-1.9 4.2-3.2 2-0.9 2.6-0.6 2.2-0.2 3.5 0 1.7-0.3 1.6-0.7 2.7-2 1.5-0.7 2-0.5 4.2-0.5 6-2.5 3.6-1.1 2-0.4 2 0 4.7 0.5 8-0.2 2.3 0.1 1.7 0.4 3.3 1.1 3.4 1 1.3 0.6 2.8 2 1.2 0.4 2.7 0.3 1.8 0.6 1.5 0.9 4.3 3.3 4.4 1.9 1.3 1 2.5 2.9 0.6 1 0.3 1-0.1 1.3-0.5 1.2-1 1.2-1.1 0.8-4.4 1.8-3 2.3-1.6 0.9-1.4 0.3-4 0.2-1.6 0.5-0.6 0.8-0.5 2.4-0.7 1.6-1.2 1.2-1.7 1.1-2 0.5-3.7 0.1-2 0.4-7.6 2.7-4.7 1.1-3.3 2.3-1.7 0.6-3.3 0.4-4.4 1-2.3-0.2-5-1-1 0-0.9 0.5-0.7 1-0.2 1.5 0.3 8-1.4 6.2-0.5 5.8-0.4 2-0.6 1.5-1 1.7-3.1 4.1-1 3.7-0.7 1.5-0.9 1.3-1.2 0.8-1.2 0.5-1.5 0.1-4.3-1.3-3.2-0.3-1.2-0.3-1.6-0.9-3.4-2.7-4.6-2.6-2.2-1.7"/></g>
<g fill="none" stroke="#000" stroke-width="0.65" stroke-linejoin="round" clip-path="url(#p8a)"><path d="M238.5 73.3l-1.5-0.3-1-1-0.1-1 0.3-0.4 0.7-0.6 1.1-0.3 1.2 0.1 1.2 0.5 0.6 0.7 0.1 0.8-0.5 0.8-0.8 0.5-1.3 0.2M239.5 74.3l-1.3 0.1-1.2-0.2-1.2-0.5-0.9-0.7-0.5-0.7-0.2-1 0.2-0.7 0.6-0.8 1.5-0.9 1.7-0.3 2.3 0.4 1.5 0.9 0.7 1.1 0 0.8-0.3 0.8-1.2 1.1-1.7 0.6M240 75.3l-1.8 0.2-1.4-0.1-1.6-0.5-1.2-0.9-0.9-1-0.5-1.2 0.1-1.2 0.6-1 0.8-0.8 1.1-0.7 2.3-0.6 1.5 0.1 2 0.4 1.2 0.4 1 0.6 0.6 0.8 0.4 1 0 1-0.3 1-0.5 0.8-0.9 0.7-1.3 0.7-1.2 0.3M239 76.6l-2.5 0-2-0.6-2-1.6-1.3-1.8-0.2-1.6 0.6-1.4 1.4-1.6 2-1.1 1.2-0.4 1.6-0.2 4.2 0.7 1.2 0.5 0.9 0.5 0.8 0.8 0.6 1 0.3 1.2-0.1 1.3-0.4 1-0.8 1-0.9 0.7-1.1 0.7-3.5 0.9M239.5 77.6l-3 0.1-2.5-0.6-1.2-0.8-1.2-1-1.1-1.3-0.7-1-0.3-1.7 0.1-1 0.5-1 1.4-1.7 2.3-1.5 1.7-0.6 1.7-0.3 2 0.1 2.6 0.4 1.7 0.5 1.3 0.7 1 0.9 0.9 1.2 0.5 1.6 0.1 1.4-0.4 1.3-0.8 1.3-1.1 1-1.2 0.8-1.6 0.5-2.7 0.7M238.5 78.8l-3.3-0.2-1.4-0.4-1.6-0.8-1.7-1.4-1.4-1.4-0.8-1.3-0.3-1.3 0-1.2 0.4-1.2 0.7-1.3 0.9-1 1.5-1.2 1.7-1 3-0.9 2-0.1 2.3 0.2 2.7 0.6 1.8 0.7 1.5 1.1 1.1 1.1 0.7 1.2 0.5 1.8 0.1 1.5-0.5 1.5-1.1 1.5-1.3 1.2-1.2 0.8-1.6 0.6-4.7 0.9"/></g>
<rect x="148" y="29.8" width="107.6" height="105.39999999999999" fill="none" stroke="#555" stroke-width="0.9"/>
<path d="M148.00,135.20v2.2 M148.00,135.20h-2.2 M156.10,135.20v1.2 M148.00,127.27h-1.2 M160.83,135.20v1.2 M148.00,122.63h-1.2 M164.20,135.20v1.2 M148.00,119.34h-1.2 M166.80,135.20v1.2 M148.00,116.78h-1.2 M168.93,135.20v1.2 M148.00,114.70h-1.2 M170.73,135.20v1.2 M148.00,112.93h-1.2 M172.29,135.20v1.2 M148.00,111.40h-1.2 M173.67,135.20v1.2 M148.00,110.06h-1.2 M174.90,135.20v2.2 M148.00,108.85h-2.2 M183.00,135.20v1.2 M148.00,100.92h-1.2 M187.73,135.20v1.2 M148.00,96.28h-1.2 M191.10,135.20v1.2 M148.00,92.99h-1.2 M193.70,135.20v1.2 M148.00,90.43h-1.2 M195.83,135.20v1.2 M148.00,88.35h-1.2 M197.63,135.20v1.2 M148.00,86.58h-1.2 M199.19,135.20v1.2 M148.00,85.05h-1.2 M200.57,135.20v1.2 M148.00,83.71h-1.2 M201.80,135.20v2.2 M148.00,82.50h-2.2 M209.90,135.20v1.2 M148.00,74.57h-1.2 M214.63,135.20v1.2 M148.00,69.93h-1.2 M218.00,135.20v1.2 M148.00,66.64h-1.2 M220.60,135.20v1.2 M148.00,64.08h-1.2 M222.73,135.20v1.2 M148.00,62.00h-1.2 M224.53,135.20v1.2 M148.00,60.23h-1.2 M226.09,135.20v1.2 M148.00,58.70h-1.2 M227.47,135.20v1.2 M148.00,57.36h-1.2 M228.70,135.20v2.2 M148.00,56.15h-2.2 M236.80,135.20v1.2 M148.00,48.22h-1.2 M241.53,135.20v1.2 M148.00,43.58h-1.2 M244.90,135.20v1.2 M148.00,40.29h-1.2 M247.50,135.20v1.2 M148.00,37.73h-1.2 M249.63,135.20v1.2 M148.00,35.65h-1.2 M251.43,135.20v1.2 M148.00,33.88h-1.2 M252.99,135.20v1.2 M148.00,32.35h-1.2 M254.37,135.20v1.2 M148.00,31.01h-1.2 M255.60,135.20v2.2 M148.00,29.80h-2.2" stroke="#333" stroke-width="0.6" fill="none"/>
<path d="M176.3,101.5V46.5H255.6 M176.3,101.5H228.5 M228.5,46.5V135.2 M228.5,92.3H255.6 M228.5,107.3H255.6" fill="none" stroke="#444" stroke-width="0.8"/>
<text x="179.5" y="56.0" font-size="8.6" text-anchor="start" font-weight="bold" >I</text>
<text x="228.3" y="56.0" font-size="8.6" text-anchor="end" >45.5</text>
<text x="232.4" y="56.2" font-size="8.6" text-anchor="start" font-weight="bold" >II</text>
<text x="253.9" y="56.2" font-size="8.6" text-anchor="end" >3.6</text>
<text x="230.5" y="103.0" font-size="8.6" text-anchor="start" font-weight="bold" >III</text>
<text x="255.0" y="103.0" font-size="8.6" text-anchor="end" >0.05</text>
<text x="246.4" y="116.3" font-size="8.6" text-anchor="middle" >0</text>
<text x="231.9" y="133.4" font-size="8.6" text-anchor="start" font-weight="bold" >IV</text>
<text x="262.6" y="11.3" font-size="10.5" text-anchor="start" >Day +8</text>
<text x="262.6" y="24.3" font-size="10.5" text-anchor="start" >(+) EPO and (+) NmU)</text>
<clipPath id="p8b"><rect x="264.2" y="29.2" width="108.40000000000003" height="106.99999999999999"/></clipPath>
<g fill="none" stroke="#000" stroke-width="0.8" stroke-linejoin="round" clip-path="url(#p8b)"><path d="M278.7 113.5l-0.7 0.2-0.8-0.4-0.5-0.6-0.4-1 0-1 0.2-1 0.5-0.8 0.7-0.5 0.7 0.1 0.6 0.3 0.5 0.6 0.3 1-0.1 1.8-0.5 1-0.5 0.3M278.7 114.5l-1 0-0.9-0.5-0.7-1-0.4-1.3-0.1-1.5 0.4-1.5 0.6-1 0.8-0.5 1 0.1 0.8 0.5 0.8 0.9 0.5 1.5 0 1.5-0.3 1.3-0.6 1-0.9 0.5M278.7 115.5l-1.3-0.2-1-0.7-0.8-1.2-0.6-1.7-0.1-2 0.3-2 0.8-1.4 1-0.6 0.7 0 0.7 0.3 1.3 1 1 1.4 0.5 1.8 0 1.8-0.5 1.7-0.9 1.3-1.1 0.5M319 80.5l-1.3 0-1-0.3-0.7-0.5-0.4-0.7 0-0.8 0.4-1 0.8-0.8 0.9-0.4 1 0 0.7 0.3 0.7 0.7 0.4 0.7 0.1 1-0.3 0.7-0.6 0.7-0.7 0.4M278.7 116.5l-1.5-0.3-1.2-1-1-1.5-0.6-2-0.3-3 0.3-2.5 0.8-1.4 1.2-0.6 0.8 0 0.9 0.2 1.6 1.2 1.4 2.1 0.8 2.3 0.1 2.2-0.6 2-1.2 1.6-1.5 0.7M319.4 81.5l-1.7 0.2-1.7-0.5-1.3-0.8-0.7-1.2 0.1-1.2 0.8-1.3 1.3-1.3 1.5-0.8 1.3 0 1.1 0.6 1 1 0.6 1.2 0.1 1.3-0.4 1.3-0.9 1-1.1 0.5M279.2 117.5l-1.5 0-1-0.5-0.7-0.6-1.4-2-0.8-2.2-0.6-4 0.2-2.5 0.4-1 0.6-0.7 1.6-0.9 1-0.1 1 0.2 1 0.5 0.7 0.6 1.7 2.4 1.2 3 0.2 2.5-0.5 2.2-1.3 2-0.8 0.6-1 0.5M319 82.5l-2.3-0.1-2.1-0.7-1.6-1.3-0.6-1.2 0.4-1.5 1.7-2 1.9-1.6 1.8-0.6 1.5 0.2 1.5 1.1 1.1 1.4 0.5 1.8-0.1 1.4-0.9 1.6-1.2 1-1.6 0.5M278.4 119l-1-0.2-1-0.6-1.2-1.4-0.9-1.4-1.1-2.7-0.7-4-0.1-2.5 0.6-2 0.6-0.8 0.8-0.6 2-0.7 1.3 0 1 0.3 0.8 0.6 0.9 0.9 1.2 1.5 1 2 0.6 1.8 0.3 1.5-0.1 2.7-0.3 1.3-0.7 1.2-0.9 1.3-1.1 0.9-1 0.6-1 0.3M319.2 83.2l-2.5 0-2.7-0.7-2.8-1.5-0.6-0.6-0.3-0.7 0.1-0.7 0.6-1 2.8-2.8 2.4-2 1-0.5 1-0.2 1.8 0.3 1.8 1.2 1.4 1.8 0.6 1.9-0.3 2-1 1.7-1.5 1.3-1.8 0.5M278.7 120.5l-1.3 0.1-0.8-0.4-0.9-1.1-1.7-2.7-1.5-3.2-0.8-4.5 0-3 0.7-2.1 0.8-0.9 0.8-0.5 1.2-0.6 1.2-0.3 1.3 0 1.3 0.3 1 0.6 1 1 1.2 1.9 1.1 2.1 0.6 1.8 0.4 1.7-0.1 3-0.9 2.5-2.1 2.6-1.2 1-1.3 0.7M318.7 84l-3.3-0.3-4.2-1-3-0.5-1.1-0.8-0.2-0.4 0-0.8 0.6-1 1.1-1.2 3.6-2.6 3.8-2.9 2-0.8 1 0 1.2 0.2 1.9 1.1 1.7 1.7 0.9 1.7 0.1 2-0.8 2.3-1.6 1.9-1.7 1-2 0.4M278.4 122l-1 0.2-1-0.2-0.7-0.5-0.5-0.7-3.2-6.8-0.6-2.6-0.5-3.4 0.2-3 0.5-1.3 0.6-1 0.8-0.7 1.2-0.7 2.8-0.7 1.4 0 1.1 0.4 1.2 0.7 0.9 1 1.3 2 1.2 2.5 0.6 2 0.3 2-0.2 3.2-1 2.6-1.1 1.4-1.5 1.6-1.5 1.3-1.3 0.7M320.2 84.5l-3.5 0.1-5-0.7-4.5-0.3-1.2-0.5-1-0.7-0.5-0.7 0-1 0.8-1.5 2-2 1.1-0.8 3.6-1.8 3.9-2.9 2.1-0.8 2.2 0.2 2.2 0.9 2.3 1.7 1.1 1.7 0.3 1.8-0.5 2.2-1.6 2.6-1.8 1.7-2 0.8M278 123.2l-1.3 0.1-1-0.4-0.9-0.7-0.6-1-3-7.5-0.7-3.5-0.2-3 0.4-3.1 0.5-1.2 0.8-1 1-0.7 1.4-0.7 1.8-0.5 1.8-0.2 1.4 0.3 1.3 0.6 1.1 1 1.2 1.7 1.3 2.3 0.8 2 0.4 2 0.2 2.3-0.4 3.2-0.5 1.5-0.8 1.4-1.6 1.9-1.7 1.7-1.4 1-1.3 0.5M320 85.2l-11.3-0.3-2.3-0.4-2-0.8-1.4-1-0.7-1 0-1.3 1-1.4 3.3-2.8 1.4-0.8 3.7-1.5 4.3-3 2.2-0.7 1.2 0 1.6 0.2 2.1 0.8 3.9 1.8 0.7 1 0.3 1.7-0.3 1.5-0.6 1.5-1 1.7-1.5 2-2.2 2-1.2 0.6-1.2 0.2M278.4 124l-1.4 0.2-1.3-0.3-1.3-0.8-0.8-1.1-3.1-8.3-0.6-3-0.2-3.3 0.1-2 0.4-1.7 0.5-1.3 0.8-1 1.2-0.9 1.5-0.6 2.2-0.6 1.8-0.2 1.5 0.2 1.5 0.7 1.4 1.4 1.5 2.3 1 1.7 0.7 1.8 0.3 2 0.2 2.5-0.3 3.7-0.5 1.6-0.8 1.4-1.5 2-1.8 1.8-1.4 1.1-1.6 0.7M321.4 85.7l-1.7 0.2-6-0.2-4.5 0.1-2.8-0.4-2.7-1-2-1.2-1.2-1.5-0.3-1 0.1-0.7 0.5-1 0.9-1 3.7-2.4 1.8-1 4.2-1.4 3.8-2.7 1.8-0.8 1.4-0.3 1.8 0.1 8 1.8 1.2 0.9 0.5 1.5 0.1 2-0.6 1.7-1.3 2-3.7 4.4-1.4 1.3-1.6 0.6M278.7 124.7l-1.7 0.2-1.6-0.3-1.4-0.9-1-1.3-3.2-8.7-0.5-2.7-0.2-3.3 0.1-2.3 0.4-2 0.6-1.4 0.8-1 1.2-0.9 1.8-0.8 2.7-0.8 2-0.3 1.5 0.3 1.5 0.9 1.7 1.8 2.1 3 0.7 1.2 0.4 1.6 0.3 5.2-0.3 3.8-0.6 1.7-0.9 1.5-1.4 1.9-1.6 1.6-1.7 1.3-1.7 0.7M309.7 86.7l-2-0.2-2.3-0.6-2.6-0.9-1.8-1-1.5-1.3-1.2-1.7-0.3-1.3 0.4-1 1.8-1.7 2-1.3 4-1.8 5-1.4 1.2-0.7 2.8-2.1 2-0.8 1.5-0.2 1.5 0 7.8 1.2 1.4 0.6 1 0.9 0.6 1.3 0.4 2 0 1.7-0.4 1.3-1 1.5-6.3 6.4-1.3 0.7-1.4 0.4-6-0.4-5.3 0.4M278.4 125.5l-2 0.1-1.7-0.6-1.5-1-1-1.6-3.2-9.2-0.4-2.8-0.1-3.2 0.2-2.5 0.4-1.7 0.6-1.6 0.8-1 1.2-0.8 1.7-0.8 4-1.3 1.8-0.3 1.5 0.4 1.5 1.1 3.4 4 1.1 1.5 0.4 1.2 0.3 1.3 0.1 6.7-0.1 2-0.5 2-0.8 2-1.1 1.8-1.4 1.5-1.7 1.3-1.7 1-1.8 0.5M321.4 87.5l-6.2-0.6-6 0.6-2.8-0.5-3.7-1.2-2.2-1.1-4.3-3.5-2.8-1.5-0.2-0.5 1.1-1 3.1-1.4 4.3-2.6 3.7-1.3 4-0.6 1.3-0.4 1.4-0.7 2.6-2.1 2-0.9 2-0.3 2.3 0.1 6.7 0.9 1.7 0.5 1.5 1 1 1.8 0.9 3.5 0.1 1.3-0.2 1-1.1 1.4-3.9 3.3-3.2 3.5-1.5 0.9-1.6 0.4M285.4 86l-1.2-0.1-1.1-0.7-0.2-1 0.5-1 1.3-1.1 1.7-0.8 2-0.4 1 0.3 0.2 0.2-0.2 0.8-1.3 2-1.4 1.2-1.3 0.6M274.7 86.5l-0.5 0.2-0.8-0.2-0.7-0.5-0.5-0.8-0.2-0.8 0.1-0.7 0.3-0.6 0.6-0.4 0.7-0.1 0.7 0.2 0.6 0.4 0.5 0.8 0.1 0.7-0.1 0.7-0.8 1.1M278.4 126.2l-2 0-2-0.5-1.4-1.1-1.3-1.6-0.7-1.6-2.8-8.2-0.3-2.2 0-3.3 0.5-4.7 0.5-1.6 0.9-1.2 0.9-0.8 1.3-0.6 6-2.6 1.4-0.3 1.6 0.5 1.4 1.2 4.2 4.8 1 1.6 0.5 2.2 0 8.2-0.1 2-0.5 2-0.9 3-0.6 1.3-1 0.7-3.8 1.9-2.8 0.9M322.2 88.2l-1.8 0.1-4.7-0.8-2 0.2-3.7 0.6-2.3-0.1-6.7-2.3-1.9-0.9-3.1-2.3-1.8-0.6-1.2 0.1-1.3 0.4-1 0.8-3.3 3-1.2 0.7-1 0.3-1.5 0-1.6-0.7-1.5-1.3-0.5-0.7-0.1-0.5 0.6-1 1.6-1.2 7-3.9 4-1.8 3.8-1.2 3.7-2 2.3-0.9 2-0.5 4-0.2 1.4-0.3 1.3-0.7 2.5-2.1 1.8-0.8 2.4-0.4 3.3 0 5.7 0.9 2.3 0.6 1.7 1 1.1 1.7 1.7 4.8 0.2 1.2-0.3 1.3-0.4 0.7-0.7 0.7-4.6 3.1-3.3 3.8-1.2 0.7-1.7 0.5M275.2 88.3l-1 0.1-1.2-0.5-1.2-1.2-0.7-1.5-0.3-1.2 0.2-1.3 0.7-0.9 1-0.6 1.5-0.1 1.5 0.4 1.6 1.2 0.8 1.3 0 1-0.8 1.2-1.1 1.4-1 0.7M279.4 126.8l-2.2 0.1-2.2-0.3-1.8-1-1.4-1.4-0.9-1.2-0.7-1.6-1.1-3.7-1.6-4.3-0.4-2.4 0.4-7.3 0.4-1.7 0.8-1.6 0.7-0.8 1-0.8 4.1-1.8 1.3-0.8 1.9-1.5 1.3-0.4 1.4 0.4 1.6 1 5 5.8 1.4 2.2 0.3 1.3 0.1 1.2-0.1 4.2 0.1 5-0.3 4.3 0.3 3-0.2 1-0.5 0.7-0.9 0.6-3.8 0.4-4 1.4M276.2 90.2l-0.8 0.1-0.7-0.2-1.7-0.9-1.3-1.2-1.1-1.8-0.6-1.8 0-1.4 0.6-1.6 1.1-0.9 1.3-0.5 1.4-0.2 5 0.6 2.3-0.3 2.3-1 3-2.3 1.2-0.7 5-1.7 3.5-0.9 4.3-2.1 2.7-1 1.5-0.2 3.2 0.3 1.6-0.2 1.2-0.6 2.4-2 2.4-0.9 3.4-0.4 3.6 0 5.4 1.2 2.3 0.7 1.3 0.9 0.9 1.2 2.7 6.3 0.1 1.3-0.1 1-0.4 1-0.5 0.6-0.8 0.6-4.2 2.1-1.5 1.4-2.2 2.9-1.3 0.7-1.5 0.5-2.5 0.3-3.5-0.8-1.8-0.2-1.7 0.2-3.5 0.8-2 0-7.5-2.3-2-1-3-1.9-1-0.4-1-0.1-1 0.2-1.3 0.6-3.7 3.3-1.7 1.1-1 0.2-1.3 0-3.5-1.1-1-0.1-1 0.5-2 2.1M279.7 127.5l-2.5 0.1-2.5-0.4-1.7-0.9-1.5-1.3-1-1.6-0.8-1.4-1.4-4.6-1.9-4.2-0.3-1.5 0.7-8.3 0.4-1.4 0.6-1.6 0.9-1.1 1-0.8 4.8-2.5 1.1-1.3 1.2-2.3 0.9-0.4 1.3 0.3 1.4 0.7 1.6 1.1 1.2 1.2 5.2 6.9 0.7 1.5 0.4 1.7-0.3 5.8 0.5 7.8 0.7 3.7-0.2 1.3-1 1.3-1.5 0.9-1.3 0.2-3.2 0.1-3.5 1M280 128.2l-2.6 0.1-2.7-0.4-1.7-0.8-1.6-1.3-1.1-1.4-1-1.7-1.7-5.3-2.1-3.7-0.4-1.3 0-1.2 0.5-3.5 0.3-4 0.8-2.7 1-1.6 1.3-1.3 3.6-1.9 1-0.8 0.6-0.7 0.3-1 0-1-0.3-0.7-3-3.3-1.7-3.5-0.3-1.2 0-1.3 0.4-1.3 0.6-0.9 1-0.8 1.5-0.7 10-2.1 1.3-0.7 2.4-1.7 1.6-0.6 4.4-1.3 4.6-0.8 7.4-3 1.3-0.1 2.7 0.4 1-0.1 1-0.4 2.4-1.6 2.6-0.9 5.3-0.6 3 0.1 6.3 1.7 1.4 0.6 1 0.7 1.1 1.4 2.9 6 0.5 2-0.2 2-0.5 1-1 1-3.8 1.4-1.6 1-1 1-1.6 2.4-1.5 1.1-2.3 0.6-2.2 0.3-1.5-0.2-3-0.7-1.5-0.1-1.5 0.2-3.3 0.9-2 0.1-8.4-2.4-1.8-0.8-2.8-1.7-1.7-0.5-1.3 0.3-1.2 0.8-3.5 3.3-1.3 0.9-1.4 0.5-2.6 0.2-0.4 0.4 0.2 0.7 6.5 9.5 1 2.2 0.4 2.3-0.3 4 0.1 2.3 0.7 6.7 1 3.5 0.1 1-0.3 1-0.6 1-1.1 1-1.3 0.7-1.7 0.4-3.5 0.2-3.2 0.7M262.2 111.6l0.5-3.9 0.1-3.5 0.4-1.8 0.9-1.7 4.1-5.7 0.8-1.8 0-1.5-0.4-2.3-1.6-5-0.1-1.2 0.2-1.5 0.5-1.5 0.8-1.4 1-1 1.3-0.7 4.3-1.4 4-1.8 3.8-1.2 4.6-2.8 2-0.8 1.8-0.3 3.8-0.1 2.4-0.4 2.6-0.6 3.9-1.7 1.5-0.6 4-0.5 4.3-0.9 8.5-1 1.5 0.1 1.7 0.4 6.3 2.3 2.3 1.2 1.3 1.2 1.7 3.5 2.6 3.5 0.4 1.8 0.1 3-0.4 1.7-0.9 1.5-1.1 1.3-1.5 1.4-1.2 0.8-2.6 1.1-2.7 2.6-1.5 0.8-1.5 0.3-6 0.1-5.3-0.5-6.2 1.3-1.5 0-3.7-0.5-3.8 0.4-1.5-0.3-3-1.7-1.7-0.5-1.3 0.2-1.5 1.3-1.7 2.4-0.3 1 0 1 1.8 4.7 0.6 2.8 0.1 2.2-0.3 4.6 0.3 2.2 1.7 7 1.9 3.5 0.2 1-0.3 1-0.9 1.3-1.6 1.3-1.7 1-3 1.1-7.8 1.4-6.5-0.5-1.3-0.3-1.2-0.5-1.1-0.8-1.1-1.2-2.2-3.3-0.9-2.2-0.9-3.6-2.2-4-0.5-1.2-0.1-1.1M262.2 100.3l2.8-3.9 0.6-1.2 0.4-1.5 0.4-2.5-0.1-1.8-1.1-4.2-0.2-2.2 0.7-3 1.4-2.6 1.1-1.1 1.2-0.7 6-1.9 3.3-1.7 3.7-1.6 4-2.6 1.8-0.8 1.8-0.3 4.4 0.1 3.3-0.4 2.5-0.6 3.5-1.5 1.7-0.5 4.3-0.6 4.5-1.1 3.8-0.4 3.4-0.7 1.6 0 8 2.6 3.4 1.5 1.8 1 1.3 1.3 1.4 3.3 2.5 2.3 0.8 1.4 1.3 6-0.2 1.3-0.5 1-5.6 5.8-7 4.5-2 0.6-6-0.6-9.5 0.6-4.7 0.6-4 0-7.6 1.2-1 0.4-0.7 0.6-0.9 1.6-0.6 2.4-0.5 8.6 0.1 2 2.8 8 1.1 1.3 2.7 1.9 0.3 0.5 0.1 0.7-0.2 0.8-0.4 0.8-2.6 2.4-1.9 2.6-0.7 0.6-1 0.2-3 0-2.8 0.4-6.8 1.8-3.7 0.1-3.7 0.3-2.3-0.4-1.5-0.8-1.2-1.2-1.3-1.6-1.2-2-2.2-4.7-1.1-5.1M262.2 97.2l1.2-2 0.6-2 0.1-3.2-1-4.6 0-2.4 0.7-4 0.6-1.3 0.8-1.3 1.2-1.2 1.6-1 1.7-0.7 3.7-0.9 1.7-0.6 6.9-4.4 3.7-2.1 2-0.8 2-0.2 4.5 0.2 5.5-0.7 5-1.6 5-0.8 4.3-1.6 4-0.6 3.2-1.6 1-0.1 1 0.3 3.5 2.1 5 1.5 6.5 3.3 1.2 0.8 2.5 2.5 2.5 1.5 0.7 0.7 0.2 0.8-0.2 2.2 0.2 1.6 0.5 1.2 0.9 0.7 1 0.1 0.9-0.6 0.6-1.2 0.5-3 0.7-0.6 1.3-0.3 2.7-0.2 2.3 0.6 1.8 1.3 0.6 0.7 0.4 1 0.1 1.5-0.4 1.5-0.6 1.3-0.9 0.9-1.7 0.7-4.8 0.9-2 0.8-10.8 8.1-3.6 2-3.1 2.2-1.3 0.7-1.2 0.3-1.2 0.1-4.3-0.9-1.7-0.1-1.8 0.4-2.5 1.1-1.3 0.2-3.7-0.9-2 0-7 1.1-2.7 0.6-2.6 1-1.7 1.3-1.3 1.5-0.8 2-0.5 5 0.2 2.4 0.4 1.1 0.7 1.1 2.2 2.4 1.8 2.2 2.9 2.8 0.8 1.4 0.2 1.8-0.5 2.5-1.1 2.2-3.8 4.3-1.9 1.5-1.3 0.4-1.3 0.1-3.7-1.3-2.3-0.1-2.1 0.6-3.1 1.7-1.2 0.5-3.8 0.5-3.8 1-1.7 0-1.3-0.4-1.2-0.7-1.5-1.2-1.4-1.4-1.9-2.7-2.2-4.4M262.2 76.8l1.5-2.2 2.3-1.8 2.7-1.3 4-0.8 1.5-0.5 1.4-1 2.4-2.5 1.4-1.1 7.3-3.3 2.5-0.5 4.2 0.1 3.8-0.8 4-0.2 6.8-0.9 2-0.8 3-2.1 1-0.3 2.2 0 0.8-0.3 0.6-0.8-0.1-1-0.5-0.6-2.1-1.1-0.5-0.6-0.2-0.7 0.1-0.7 0.4-0.6 0.7-0.4 0.8-0.2 1.7 0.4 4.8 2.1 1.3 1.1 2.2 3.1 1.5 1.1 5.3 1.4 1 0.7 2.3 2 2.1 1 6.6 1.9 5.7 2.6 5 0.9 2.3 0.8 1.4 0.8 1.4 1 0.9 1 0.6 1.3 0.3 2.2-0.4 2.8-0.9 2.4-1.3 1.7-1.8 0.9-4.8 0.4-2.3 0.8-1.9 1.2-4.5 3.9-4.7 3.1-4.3 2-3 2.2-1.3 0.7-1.4 0.4-1.6 0.2-4-0.4-1.2 0-1 0.3-3.2 1.5-2.6 0.4-2.2-0.2-3-1.2-1.5-0.1-8.3 1.8-1.7 0.7-1.5 0.9-1.2 1.4-0.7 1.4-0.3 2.3 0.1 2 0.3 0.7 0.6 0.6 2.4 1.6 1.5 1.4 3.3 5 0.9 1.7 0.6 1.7 0.2 2.3-0.3 3.3-0.5 2-1.1 1.7-1.6 1.5-4.4 3.1-2 1.1-1.6 0.4-1.4 0-1-0.4-2.8-1.6-1.8-0.2-1 0.3-1 0.5-2.7 2.6M266.4 138l-2.5-2.3-1.7-2.5"/></g>
<g fill="none" stroke="#000" stroke-width="0.65" stroke-linejoin="round" clip-path="url(#p8b)"><path d="M355.4 78.7l-1 0-0.7-0.3-0.7-0.7-0.3-0.7 0-1 0.3-0.8 0.7-0.6 0.7-0.3 1 0 0.8 0.3 0.7 0.6 0.3 0.8 0.1 1-0.3 0.7-0.8 0.7-0.8 0.3M356.2 80l-1.2 0.2-1.6-0.4-1-0.7-0.8-1.1-0.3-1.6 0.1-1.2 0.8-1.2 1-0.7 1.5-0.4 1.5 0.2 1.2 0.7 0.8 1.2 0.4 1.4-0.3 1.6-0.9 1.2-1.2 0.8M355.7 81.5l-2-0.2-1.7-0.8-1.3-1.5-0.7-1.8-0.1-1.8 0.6-1.7 1.2-1.1 1.7-0.7 2.3-0.2 1.7 0.5 1.4 1.2 0.9 2 0.1 2-0.8 2-1.6 1.5-1.7 0.6M355.7 82.7l-2.7-0.3-1.8-0.9-1.4-1.5-1.2-2.3-0.2-2 0.2-1.3 0.4-1 1.3-1.4 1.9-0.9 3.2-0.5 1.3 0.1 1.3 0.4 1 0.6 0.7 0.7 0.8 1.3 0.5 1.5 0.3 1.2-0.1 1.3-0.5 1.3-0.7 1.2-1 1.2-1 0.7-1 0.4-1.3 0.2M357.2 83.7l-1.2 0.2-1.8-0.1-1.8-0.3-1.2-0.4-1.8-1.4-1.9-2.5-0.4-1-0.2-1.2 0-1.3 0.3-1.5 0.6-1.2 0.6-1 1.8-1.5 1.8-0.6 2.4-0.5 1.6-0.1 1.4 0.2 1.6 0.6 1.1 0.9 0.9 1 1.1 1.7 0.6 1.5 0.1 1.2-0.2 1.3-0.5 1.5-1.1 1.8-1.1 1.2-1.2 0.9-1.5 0.6M357 85l-1.6 0.1-2-0.1-1.7-0.3-1.3-0.5-1.2-0.8-1.6-1.4-1-1.3-0.7-1.3-0.3-1.4-0.1-1.6 0.3-2 0.5-1.4 0.7-1.3 1.1-1.3 1.3-0.9 1.3-0.6 2.3-0.6 2.4-0.4 1.6 0.1 1.7 0.5 1.7 1 1.3 1 1.4 1.9 1 1.8 0.3 1.5-0.2 1.7-0.7 1.8-1.2 2.2-1.1 1.4-1.2 1-1.6 0.8-1.4 0.4"/></g>
<rect x="264.2" y="29.2" width="108.40000000000003" height="106.99999999999999" fill="none" stroke="#555" stroke-width="0.9"/>
<path d="M264.20,136.20v2.2 M264.20,136.20h-2.2 M272.36,136.20v1.2 M264.20,128.15h-1.2 M277.13,136.20v1.2 M264.20,123.44h-1.2 M280.52,136.20v1.2 M264.20,120.09h-1.2 M283.14,136.20v1.2 M264.20,117.50h-1.2 M285.29,136.20v1.2 M264.20,115.38h-1.2 M287.10,136.20v1.2 M264.20,113.59h-1.2 M288.67,136.20v1.2 M264.20,112.04h-1.2 M290.06,136.20v1.2 M264.20,110.67h-1.2 M291.30,136.20v2.2 M264.20,109.45h-2.2 M299.46,136.20v1.2 M264.20,101.40h-1.2 M304.23,136.20v1.2 M264.20,96.69h-1.2 M307.62,136.20v1.2 M264.20,93.34h-1.2 M310.24,136.20v1.2 M264.20,90.75h-1.2 M312.39,136.20v1.2 M264.20,88.63h-1.2 M314.20,136.20v1.2 M264.20,86.84h-1.2 M315.77,136.20v1.2 M264.20,85.29h-1.2 M317.16,136.20v1.2 M264.20,83.92h-1.2 M318.40,136.20v2.2 M264.20,82.70h-2.2 M326.56,136.20v1.2 M264.20,74.65h-1.2 M331.33,136.20v1.2 M264.20,69.94h-1.2 M334.72,136.20v1.2 M264.20,66.59h-1.2 M337.34,136.20v1.2 M264.20,64.00h-1.2 M339.49,136.20v1.2 M264.20,61.88h-1.2 M341.30,136.20v1.2 M264.20,60.09h-1.2 M342.87,136.20v1.2 M264.20,58.54h-1.2 M344.26,136.20v1.2 M264.20,57.17h-1.2 M345.50,136.20v2.2 M264.20,55.95h-2.2 M353.66,136.20v1.2 M264.20,47.90h-1.2 M358.43,136.20v1.2 M264.20,43.19h-1.2 M361.82,136.20v1.2 M264.20,39.84h-1.2 M364.44,136.20v1.2 M264.20,37.25h-1.2 M366.59,136.20v1.2 M264.20,35.13h-1.2 M368.40,136.20v1.2 M264.20,33.34h-1.2 M369.97,136.20v1.2 M264.20,31.79h-1.2 M371.36,136.20v1.2 M264.20,30.42h-1.2 M372.60,136.20v2.2 M264.20,29.20h-2.2" stroke="#333" stroke-width="0.6" fill="none"/>
<path d="M292.5,102.2V46.4H372.6 M292.5,102.2H345.7 M345.7,46.4V136.2 M345.7,92.4H372.6 M345.7,107.5H372.6" fill="none" stroke="#444" stroke-width="0.8"/>
<text x="295.5" y="57.0" font-size="8.6" text-anchor="start" font-weight="bold" >I</text>
<text x="344.6" y="57.0" font-size="8.6" text-anchor="end" >49.4</text>
<text x="348.8" y="57.0" font-size="8.6" text-anchor="start" font-weight="bold" >II</text>
<text x="372.4" y="57.0" font-size="8.6" text-anchor="end" >3.36</text>
<text x="346.8" y="104.0" font-size="8.6" text-anchor="start" font-weight="bold" >III</text>
<text x="372.0" y="104.0" font-size="8.6" text-anchor="end" >0.01</text>
<text x="362.6" y="115.8" font-size="8.6" text-anchor="middle" >0</text>
<text x="348.5" y="133.8" font-size="8.6" text-anchor="start" font-weight="bold" >IV</text>
<text x="151.2" y="173.4" font-size="10.6" text-anchor="start" >Day +10 (+) EPO</text>
<clipPath id="p10a"><rect x="149.4" y="177.6" width="111.20000000000002" height="109.9"/></clipPath>
<g fill="none" stroke="#000" stroke-width="0.8" stroke-linejoin="round" clip-path="url(#p10a)"><path d="M232.2 223.1l-1.3 0-1-0.2-0.4-0.5 0.1-0.6 0.6-0.7 0.8-0.5 2.2-0.8 2.4-0.3 1 0.1 0.6 0.4 0 0.4-0.3 0.4-1.2 1-1.6 0.8-1.9 0.5M232.4 223.6l-1.8 0.2-1.4-0.3-0.8-0.7 0-0.7 0.5-0.7 1-0.8 1.5-0.8 2-0.7 3.5-0.5 1.5 0.2 0.9 0.3 0.1 0.5-0.3 0.5-1.7 1.5-2.3 1.2-2.7 0.8M231.4 224.4l-2 0-1.6-0.6-0.5-0.4-0.1-0.5 0.3-1.1 0.9-1 1.2-0.7 2.2-1 2.1-0.7 2-0.4 5-0.5 3.5-0.6 0.9 0.2-0.3 0.5-0.7 0.5-7.3 4.5-2.8 1.2-2.8 0.6M231.9 224.9l-2.5 0.1-2-0.4-0.8-0.5-0.4-0.5-0.2-0.5 0.2-0.7 0.9-1.3 1.3-1 2.6-1.3 2.9-1 11.7-2.2 1.3 0 0.8 0.5 0 0.5-0.5 0.8-2.5 1.7-8.1 4.3-2.4 0.9-2.3 0.6M230.9 225.6l-2.5 0-2.4-0.8-0.6-0.4-0.5-0.8 0-0.8 0.4-0.7 1.1-1.3 1.8-1.2 3.1-1.5 3.1-1.1 11.8-2.2 1.7 0.1 0.5 0.2 0.5 0.5-0.1 1-0.7 1-1.3 1-2.4 1.5-8.3 4-2.9 1-2.3 0.5M229.6 226.4l-2-0.2-2-0.6-1.3-0.8-0.6-1 0.1-1 0.8-1.2 1.3-1.2 1.7-1.2 5.3-2.3 3.7-1.1 10.3-1.6 1.7 0.1 0.7 0.3 0.4 0.5 0.2 0.5-0.1 0.8-0.9 1.2-1.8 1.5-3.2 2-8.5 3.8-3.5 1.1-2.3 0.4M230.6 226.9l-1.4 0.1-1.8-0.1-2.1-0.5-1.7-0.8-0.7-0.5-0.5-0.7 0-0.8 0.4-1 1.4-1.8 2.4-1.7 4.3-2.1 3.3-1.2 4.2-0.9 8.8-1.4 2 0.2 0.7 0.3 0.6 0.6 0.2 0.8-0.1 0.7-0.9 1.5-1.7 1.5-3.4 2.2-2.2 1.2-6.4 2.6-5.4 1.8M230.2 227.6l-1.6 0.1-1.4-0.1-4.6-1.3-1-0.6-0.6-0.6-0.2-0.7 0.2-1 1.5-2 2.7-2.1 3.2-1.8 5-2.2 4.5-1 10-1.4 2 0.2 0.7 0.4 0.6 0.6 0.2 0.7 0 1-1 1.8-1.6 1.5-4.2 2.9-2.2 1.1-10 3.9-2.2 0.6M229.4 228.4l-2.8-0.2-5.7-1.4-1.5-0.6-0.7-0.6-0.2-0.5 0.1-0.7 0.6-1 1.5-1.6 2.9-2.5 3.3-1.8 5.7-2.7 4.4-1 11.6-1.7 1.8 0.2 0.8 0.4 0.5 0.7 0.4 1 0.1 1-0.3 1-0.6 1-1.8 1.7-4.6 3.4-2 1-4.5 1.5-6.8 2.8-2.2 0.6M160.9 259.1l-1.3 0.2-1.4-0.2-0.8-0.7 0-0.8 0.7-0.8 0.8-0.4 1-0.2 0.7 0.2 0.8 0.6 0.4 0.8-0.2 0.8-0.7 0.5M228.9 229.1l-2.3 0-6.7-1.1-4-0.1-0.7-0.5-0.6-0.8-0.1-0.8 0.1-1 0.4-0.7 0.7-0.7 3.2-1.7 4.2-3.1 3.3-1.8 5.8-2.6 2.7-0.6 9.5-1.3 5-1.2 1.5 0.2 1.3 1.1 0.5 1 0.2 1.2-0.2 1.2-0.6 1.3-1.7 1.8-5.2 4-2 1.1-5 1.6-7 3-2.3 0.5M163.2 262.5l-0.8 0-2.1-0.9-3.1-0.9-1.2-0.6-0.5-0.7-0.3-1 0.2-1 0.5-1 1.7-1.5 1.8-1 1.2-0.1 1.3 0.7 1.7 2.1 0.8 2-0.2 2.1-0.6 1.3-0.4 0.5M216.2 230.2l-1 0.1-0.8-0.2-0.7-0.5-0.5-1-0.5-1.5-0.2-1.3 0.2-1.2 0.4-1 0.8-1.2 1-0.8 3.7-1.4 3.8-2.5 9.8-4.3 12-1.7 5.2-1.6 1.2 0 1 0.4 0.8 0.7 0.8 1.2 0.4 1.2 0.1 1.2-0.4 1.3-0.7 1.3-2 1.9-6.4 4.9-5.8 1.7-6.8 3.1-2.4 0.8-2.6 0.2-4.4-0.6-2-0.1-1.8 0.2-2.2 0.7M163.4 266.1l-0.7 0-0.5-0.3-2-2.2-0.8-0.6-4-1.8-0.8-0.8-0.5-1.6 0-1.7 0.8-1.5 4.3-4.2 0.7-0.6 0.7-0.3 0.6 0.1 0.4 0.5 3.8 5.7 0.7 2-0.1 2-0.8 3.3-0.8 1.4-1 0.6M215.2 232.1l-1.6 0.1-0.7-0.5-0.5-0.6-1.2-3-0.3-2.3 0.3-1.4 1-1.8 1.4-1.7 1.8-1.2 5.1-2.6 4.9-1.6 5.2-2.3 1.8-0.5 11.2-1.6 1.9-0.5 2.9-1.1 1.5-0.3 1.3 0.1 1 0.5 0.9 0.8 0.6 1 0.6 1.5 0.1 1.5-0.3 1.2-0.8 1.6-1.9 1.9-7 5.3-1.2 0.5-4.8 1.3-6.8 3.2-2.7 0.9-2.5 0.4-4.2-0.5-2 0.1-1.8 0.3-3.2 1.3M163.4 267.9l-1 0-0.8-0.4-3-3.5-1-0.6-2.3-1-0.9-0.7-0.9-1.3-0.5-2.3 0.2-1.7 0.5-1.3 3-3 3.7-5.1 0.5-0.4 0.7-0.3 1.1 0.3 0.9 1 0.3 1.2 0.2 2.8 0.3 1.2 0.9 1.8 2.2 3 0.4 1.2-0.3 1.6-2 5.4-1 1.4-1.2 0.7M214.2 233.6l-1.6-0.2-1.2-1-2.9-4.6-0.3-1.2 1-2 2.9-3.5 2.3-2.1 3-2 2.2-0.9 5.8-1.4 6-2.5 5.8-0.7 6-1 6-1.8 1.7-0.1 1.5 0.5 1.2 1 0.8 1.3 0.7 1.4 0.1 1.6-0.2 1.2-0.8 1.5-1.9 2-3.7 2.7-2.7 2.4-1.2 0.9-1.3 0.5-3.2 0.6-2 0.6-6.6 3.4-3.4 1.3-2.3 0.3-3.7-0.4-2 0.1-1.8 0.5-3 1.3-1.2 0.3M163.6 269.4l-1.2 0.1-1-0.4-1-1-1.4-2.3-0.9-1-1.2-0.7-2.5-1.1-0.8-0.6-0.9-1.6-0.5-3 0-1.7 0.5-1.5 3.7-3.8 3.2-5.4 0.8-0.7 1-0.3 1 0.1 1 0.3 1 0.7 0.7 0.9 0.6 1.7 0 3.5 0.4 1.5 1.1 1.6 2.4 2.4 0.5 1-0.2 1.3-1.9 3-2.1 5-1 1.3-1.3 0.7M213.9 234.6l-1.3-0.1-1-0.4-3-2.7-2.3-1.6-0.9-1.2-0.2-1.8 0.4-1.2 1-1.2 3-2.3 4.6-4.1 2.4-1.8 2.3-0.9 6.3-1.3 6-2.4 7.2-0.8 5-1.1 5.8-1.6 2 0 1.5 0.5 1.3 1 1.3 1.8 0.6 1.4 0.2 1.6-0.3 1.2-0.9 1.5-2 2.1-4 2.9-2.7 2.6-1.3 0.9-1.3 0.5-3.4 0.6-1.8 0.6-6 3.1-4.8 2-2 0.3-3.4-0.3-2 0-1.8 0.5-3.2 1.4-1.3 0.3M163.2 271.1l-1.3 0-1-0.5-0.7-0.9-1.6-2.9-1-1.2-1.2-0.8-2.7-1.2-0.9-0.8-0.5-0.7-0.4-1.2-0.7-4.1 0.1-1.2 0.4-1.2 0.7-1 2.5-2.3 1-1.3 1-1.7 1.6-3.7 0.9-0.9 1.5-0.4 1.7 0.1 1.8 0.5 1.2 0.6 0.8 0.8 0.6 1.3 0.4 1.4 0.3 3.6 0.2 1 0.6 1 2.6 2.4 0.5 1 0.2 1 0 1-0.3 0.8-2.9 3.5-2.5 6-1.2 1.3-1.7 0.7M214.2 235.4l-1.6 0-1.2-0.4-3.2-2.2-3.6-2-0.9-1-0.1-1.7 0.6-2.5 1.3-2 1.1-0.9 3.6-2.2 4.2-3.8 1.8-1.3 2.4-0.9 6.6-1.3 5.7-2.2 6.7-0.6 9.6-2.4 2.2-0.4 2 0 1.9 0.8 1.5 1.2 1.4 2 0.7 1.5 0.2 1.3-0.3 1.2-0.8 1.2-2.4 2.6-4.4 3-2.8 2.7-1.2 0.9-1.6 0.6-3.2 0.6-1.8 0.5-5.2 2.9-6 2.7-1.8 0.3-3.7-0.4-1.7 0.1-1.6 0.4-3 1.3-1.4 0.4M162.9 273.4l-0.7 0.1-0.8-0.1-1.2-1-0.7-1-1.3-3.6-1.3-1.7-1.1-0.7-2.6-1.1-1.2-0.9-0.7-1.8-0.9-5 0-1.5 0.7-1.5 0.8-1 2.5-2.2 1.2-1.8 0.7-1.5 0.7-2.7 0.4-1 1-0.9 1.8-0.5 6 0.4 1 0.2 0.5 0.5 0.7 1.3 1.9 6.4 2.2 4.8 0.5 2.2-0.1 1.6-0.4 1-0.6 0.7-2 1.7-1 1.6-1.6 4.7-0.7 1.3-1.4 1.6-2.3 1.4M213.9 236.1l-1.5 0-1.5-0.4-3.7-2.2-2.3-0.8-1.7-0.2-2.6 0.9-1.2 0.1-1.3-0.4-0.4-0.5 0-0.5 0.2-0.7 0.7-0.9 2.6-1.6 0.6-0.5 1.9-4 1.2-1.6 1.5-1.2 4-2.3 3.8-3.4 1.4-1.1 2.6-0.9 6.7-1.3 5.7-2.1 6.8-0.6 8.2-2.1 3.8-0.7 2.5 0.2 1.9 0.8 1.7 1.5 1.8 2.5 0.5 1.3 0.3 1.2-0.2 1-0.8 1.2-2.9 2.8-4.9 3.2-2.7 2.7-1.2 1-1.5 0.6-3.3 0.5-1.5 0.5-4.2 2.4-7.5 3.6-2 0.3-3.5-0.5-1.7 0.1-1.6 0.4-3.2 1.4-1.5 0.3M163.4 275.7l-0.8 0.1-1-0.1-1-0.4-1-0.7-0.9-1.5-0.9-4-0.9-1.9-1.3-1.1-3-1.1-1.3-1.2-0.8-2-0.9-5-0.1-1.4 0.4-1.3 0.5-1 3.1-3 1.1-1.5 0.7-1.8 0.6-3.4 0.5-0.9 0.6-0.7 0.9-0.5 1.3-0.3 4.4 0.1 4.3-0.6 1.3 0.6 0.7 1.3 0.7 3.7 1.7 4.5 1.2 4.5 0.4 2.3 0 2-0.2 1-0.5 0.9-2.8 2.3-0.9 1.2-0.7 1.8-0.7 3.2-0.6 1.3-3.3 4-0.8 0.6M153.4 284.4l-1-0.2-0.3-0.4-0.1-0.4 0.4-1 1-0.5 0.8 0.3 0.3 0.9-0.3 0.7-0.8 0.6M213.9 238.1l-2.5 0.1-2.2-0.2-1.6-0.5-2.2-1-1.2-0.2-1 0.1-3.6 0.9-3.4-0.1-4 0.1-1.4-0.5-1.2-1-0.8-1.2-0.1-1.2 0.4-0.8 0.6-0.5 3.2-1.5 1.5-1 4.4-4.8 0.3-1-0.2-0.7-2-1.5-0.5-0.8 0.2-1.2 0.9-1 0.9-0.6 1-0.3 3.8 0 3.2-1.3 3.2-0.3 1-0.5 3.6-2.6 3-1.2 8-1.7 5-1.4 6.2-0.2 7.2-2 4-0.6 2.8-0.2 2.8 0.5 2.2 1.2 2.8 2.7 2.1 3 0.5 1.5 0.1 1.2-0.4 1.3-0.9 1.1-1.3 1.2-2.7 1.8-5.2 2.6-3.1 3.3-1.7 1.2-4.3 1.5-3.6 2.3-4.8 1.5-5.3 2.5-2.2 0.4-3.8-0.3-1.4 0-4.3 1.5-2 0.4M147.4 253.4l3-3.8 1-1.5 0.5-1.7 0.4-3.8 0.8-1.8 0.9-1 1.4-1.1 1.5-0.7 1.3-0.3 4.2 0.2 3.8-0.9 1.7-0.2 2.3 0.3 1.7 0.6 0.7 0.7 0.6 1 0.8 4.2 0.6 1.5 2.3 3.5 0.6 1.5-0.1 1.3-0.7 2.4-0.2 1.6 0.3 5.4-0.3 1.6-0.9 1-2.7 2-0.7 1-0.3 1.4 0.5 2.8-0.3 1-0.7 0.8-2 1.2-1.1 1-0.8 1.2-1.6 3.3-0.7 0.8-0.8 0.3-1.5-0.1-3-1.3-3-0.7-0.6-0.5-0.5-1-0.4-1.5-0.3-4.3-0.3-1.2-0.9-1-3-1.4-1.5-1.6-1.3-2.5-0.7-3.6M153.9 286.2l-1.7 0.1-1.3-0.5-0.8-1.2 0-1.5 0.7-1.7 1.4-1.5 1.7-0.9 1.5-0.2 0.7 0.6 0.5 1.2 0.4 1.8 0 1.2-0.3 0.8-0.6 0.7-0.9 0.6-1.3 0.5M262.4 217.5l-1.3 2.1-2.2 1.8-3.2 2-4.3 1.5-1 0.8-2.2 2.4-1.6 1.2-7.7 4.4-5.3 1.4-3.7 1.8-2 0.7-2.5 0.4-4-0.1-1.3 0.2-4.2 1.4-5.3 0.9-4.8 2-2.4 0.6-1.8 0.2-4.2 0-4.8 1.2-1.4-0.3-1.2-1-2.2-4-3.9-4.7-0.8-1.6 0-1 0.4-1 0.7-1 1.2-0.9 1.8-0.7 3.7-0.2 0.9-0.4 0.5-0.5 0.3-1.3-0.9-3-0.1-1.4 0.8-2 1.4-1.8 2.4-1.6 6.7-3.2 1.7-0.6 2-0.3 3.3 0.1 1.3-0.2 7.4-2.7 3.3-0.9 4.3-0.4 4.7-0.7 5.3-0.1 7-1.7 7.2-0.7 1.8 0.2 1.4 0.4 3 1.6 1.7 1.6 1.4 1.4 1.8 2.3 0.9 1.5M147.4 250.3l0.8-1.2 0.6-1.5 0.8-6.5 0.5-1 0.8-1 4.3-2.9 1.7-0.9 1.5-0.3 3.2-0.3 2.3-0.6 1.3-0.2 4.2 0.5 4.2 0.1 1.3 0.4 1.1 0.7 0.5 0.8 0.3 1-0.2 4.2 0.4 2 0.7 1.5 2.5 3.3 0.5 1.2 0.1 1-0.2 1.5-0.9 2.7-0.3 1.6 0 1.2 0.5 3-0.2 2-0.8 1.8-2.1 2.4-0.4 0.8-0.2 4-0.6 1.9-0.8 1.3-1.2 1-1 0.3-2 0.4-0.9 0.6-0.5 0.8-2.3 4.9-1 1.3-1 0.7-1.7 0.4-2.8-0.4-3.5 1.7-3.7 0.9-2-0.1-1.6-0.9-0.5-0.8-0.2-0.8 0.1-1.7 1-2.5 2.4-3.8 0.2-1 0-1.2-0.4-1.8-0.7-1.4-4.1-5M147.4 237.8l0.8-0.8 1-0.8 3.2-1.2 3.2-1.8 3.2-1.4 3.1-2.4 1.3-0.3 3.4 0.4 1.4-0.1 1.2-0.7 2-1.9 1-0.5 1-0.1 1.2 0.3 4 1.8 1 0.1 1-0.3 2-1.5 3.2-3.2 2.4-3.8 3.3-3.2 2.1-1.6 4.2-2.1 3.1-2.6 1.7-0.8 8.8-0.7 5.7-1.9 4.7-0.9 5.6-0.1 4.7-0.4 3.7 0 7.3-1.5 8-0.5 2.7 0.5 2.6 1.2 3.4 2.6 2.8 2.9M262.4 221l-1.8 1.6-3.4 2.3-1.6 0.7-2.8 0.8-1.2 0.5-5.2 4.5-6.5 3.8-5.3 1.7-4.7 1.7-8.5 1.5-4.2 1.4-3.8 0.9-1.5 0.6-4.3 2.3-2.7 1-2 0.1-4-0.7-2 0.1-2.1 0.8-3.9 2.4-1 0.3-1-0.1-0.5-0.2-0.4-0.6-1.3-4.8-1.3-2.6-0.8-0.8-0.7-0.5-0.7-0.1-0.8 0.3-0.8 0.7-0.7 1.2-0.3 1 0 1 0.8 1.7 3.3 4.1 0.3 1.2-1.9 4.3-0.2 1.5-0.1 3-0.2 1.8-0.8 2.4-1.7 4.3-0.7 3.7-0.6 1.8-1.5 2.8-3.1 3.9-1 0.8-2.3 1.3-2.4 3.2-1.3 1.3-2.3 1.4-2.5 1.1M159.9 289.4l-3.3-1-4.2 0.3-1.5-0.1-1.5-0.6-1.2-1.3-0.6-1.3 0-1.8 2.2-6 0.3-2.2-0.2-1.3-0.5-1.3-0.8-1.2-1.2-1.5M147.4 232.8l1-0.9 1-0.5 5.5-1.8 1.4-0.8 1-1.2 1.4-3.5 0.7-0.9 1-0.5 1.8-0.1 2.7 0.9 1 0.1 1-0.6 2.3-2.6 0.7-0.4 1-0.2 1.7 0.2 4 1.7 1.3 0.1 1.3-0.4 1.1-1 1.1-3 0.8-1 1.2-0.7 3.8-1 3.7-2 4.5-1.6 1.5-1.1 2.7-3.3 1-0.6 1-0.3 9-0.6 4.6-1.2 1.7-0.3 5.5-0.4 5.2 0.2 4.3-0.4 4-0.1 6.5-1.1 9.2-0.3 2.3 0.4 1.7 0.7 6.8 4.9M262.4 223.9l-3 2.3-1.5 1-1.5 0.6-3 0.6-1.4 0.7-5.6 4.8-3.8 2.2-3 1.4-7.7 2.8-5 0.7-2.3 0.6-4.2 2-5.5 1.6-4.7 2.8-2.8 1.3-2 0.7-1.5 0.2-1.3-0.2-3.2-1.6-1.2-0.4-1.3 0.1-1.1 0.5-1.1 1-2.3 3.2-3.1 3.3-1.8 3.5-2.6 3.1-1 1.7-0.7 1.7-0.4 1.5 0.1 4-0.2 1.5-0.9 1.7-3.7 5.6-0.5 1.4-0.3 3-0.6 1.6-0.6 0.7-0.9 0.6-3.6 0.7-1.8 1M148 289.4l-0.6-0.6"/></g>
<rect x="149.4" y="177.6" width="111.20000000000002" height="109.9" fill="none" stroke="#555" stroke-width="0.9"/>
<path d="M149.40,287.50v2.2 M149.40,287.50h-2.2 M157.77,287.50v1.2 M149.40,279.23h-1.2 M162.66,287.50v1.2 M149.40,274.39h-1.2 M166.14,287.50v1.2 M149.40,270.96h-1.2 M168.83,287.50v1.2 M149.40,268.30h-1.2 M171.03,287.50v1.2 M149.40,266.12h-1.2 M172.89,287.50v1.2 M149.40,264.28h-1.2 M174.51,287.50v1.2 M149.40,262.69h-1.2 M175.93,287.50v1.2 M149.40,261.28h-1.2 M177.20,287.50v2.2 M149.40,260.02h-2.2 M185.57,287.50v1.2 M149.40,251.75h-1.2 M190.46,287.50v1.2 M149.40,246.92h-1.2 M193.94,287.50v1.2 M149.40,243.48h-1.2 M196.63,287.50v1.2 M149.40,240.82h-1.2 M198.83,287.50v1.2 M149.40,238.65h-1.2 M200.69,287.50v1.2 M149.40,236.81h-1.2 M202.31,287.50v1.2 M149.40,235.21h-1.2 M203.73,287.50v1.2 M149.40,233.81h-1.2 M205.00,287.50v2.2 M149.40,232.55h-2.2 M213.37,287.50v1.2 M149.40,224.28h-1.2 M218.26,287.50v1.2 M149.40,219.44h-1.2 M221.74,287.50v1.2 M149.40,216.01h-1.2 M224.43,287.50v1.2 M149.40,213.35h-1.2 M226.63,287.50v1.2 M149.40,211.17h-1.2 M228.49,287.50v1.2 M149.40,209.33h-1.2 M230.11,287.50v1.2 M149.40,207.74h-1.2 M231.53,287.50v1.2 M149.40,206.33h-1.2 M232.80,287.50v2.2 M149.40,205.07h-2.2 M241.17,287.50v1.2 M149.40,196.80h-1.2 M246.06,287.50v1.2 M149.40,191.97h-1.2 M249.54,287.50v1.2 M149.40,188.53h-1.2 M252.23,287.50v1.2 M149.40,185.87h-1.2 M254.43,287.50v1.2 M149.40,183.70h-1.2 M256.29,287.50v1.2 M149.40,181.86h-1.2 M257.91,287.50v1.2 M149.40,180.26h-1.2 M259.33,287.50v1.2 M149.40,178.86h-1.2 M260.60,287.50v2.2 M149.40,177.60h-2.2" stroke="#333" stroke-width="0.6" fill="none"/>
<path d="M178.6,252.5V195.3H260.6 M178.6,252.5H232.2 M232.2,195.3V287.5 M232.2,241.3H260.6 M232.2,256.3H260.6" fill="none" stroke="#444" stroke-width="0.8"/>
<text x="180.7" y="206.0" font-size="8.6" text-anchor="start" font-weight="bold" >I</text>
<text x="188.8" y="206.0" font-size="8.6" text-anchor="start" >45.3</text>
<text x="261.0" y="204.5" font-size="8.6" text-anchor="end" >26.9</text>
<text x="251.8" y="237.0" font-size="8.6" text-anchor="start" font-weight="bold" >II</text>
<text x="233.8" y="253.7" font-size="8.6" text-anchor="start" font-weight="bold" >III</text>
<text x="260.8" y="253.7" font-size="8.6" text-anchor="end" >0.06</text>
<text x="260.8" y="265.9" font-size="8.6" text-anchor="end" >0.02</text>
<text x="235.3" y="283.1" font-size="8.6" text-anchor="start" font-weight="bold" >IV</text>
<path d="M150.2,281.5 L154.5,286.8 L150.2,286.8 Z" fill="#000"/>
<text x="268.6" y="159.4" font-size="10.5" text-anchor="start" >Day +10</text>
<text x="268.6" y="172.0" font-size="10.6" text-anchor="start" >(+) EPO and (+) NmU</text>
<clipPath id="p10b"><rect x="266.2" y="177.5" width="105.60000000000002" height="110.69999999999999"/></clipPath>
<g fill="none" stroke="#000" stroke-width="0.8" stroke-linejoin="round" clip-path="url(#p10b)"><path d="M333.2 235.3l-1.5 0.2-1.3-0.2-0.6-0.5 0-0.8 1-1 1.6-0.7 1.8-0.2 1.3 0.4 0.3 0.7-0.4 0.8-1 0.8-1.2 0.5M332.2 236l-1.8 0.1-1.2-0.5-0.4-0.4-0.2-0.4 0.3-1 0.8-0.8 1-0.7 2.5-0.8 2.5 0 0.7 0.3 0.5 0.4 0.2 0.6-0.1 0.4-1.1 1.3-1.7 1-2 0.5M330.4 236.8l-2-0.3-0.6-0.5-0.4-0.7 0.1-0.8 0.4-0.7 1.5-1.4 2.4-1.2 2.6-0.5 2.3 0.1 1 0.4 0.5 0.6 0.2 0.7-0.2 0.7-0.8 1-1 0.8-2.9 1.2-3.1 0.6M330 237.5l-1.6 0-1-0.2-0.7-0.5-0.4-0.8 0-1 0.4-1 0.9-1 0.9-0.8 3.2-1.5 3-0.8 1.5 0 1.5 0.3 1 0.4 0.7 0.7 0.3 0.7-0.2 1-0.7 1-1.2 1-3.4 1.6-4.2 0.9M328.4 238.5l-1.2-0.1-1.2-0.6-0.7-1-0.2-1 0.2-1 0.5-1 1-1 1.4-1 3.8-1.9 1.7-0.5 1.5-0.2 1.8 0 1.4 0.3 1.6 0.7 0.7 0.8 0.3 1-0.3 1-1 1.2-1.3 1-1.9 1-2.3 0.9-3.8 1.1-2 0.3M327.7 239.5l-1.3-0.2-1.2-0.8-1-1.3-0.3-1.2 0.2-1 0.7-1.2 1.2-1.2 1.4-1.1 4.6-2.3 1.7-0.5 1.7-0.2 2 0 1.9 0.5 1.5 0.8 1.1 1 0.3 1-0.4 1.2-1 1.2-1.6 1.3-1.9 1-2.3 0.9-5.6 1.8-1.7 0.3M328.4 240.3l-1.7 0.1-1.5-0.6-1.6-1.3-0.8-1.5-0.1-1.2 0.5-1.3 1.2-1.5 1.5-1.2 5.8-3.1 2-0.6 1.7-0.3 2.3 0.1 2.3 0.6 1.7 0.8 1.2 1.2 0.4 1-0.3 1.3-1 1.4-1.7 1.3-3.1 1.6-8.8 3.2M328 241.3l-1.8 0-1.5-0.5-2.2-1.8-0.9-1-0.4-0.8 0-1.2 0.6-1.2 1.5-1.8 1.7-1.4 1.8-1.1 4.9-2.4 2-0.7 2-0.3 2.3 0.1 2.4 0.7 2.2 1.1 1.4 1.2 0.4 1.3-0.4 1.3-1.1 1.4-1.8 1.6-2.9 1.5-10.2 4M283 268.1l-0.6 0-0.2-0.4-0.3-0.9-0.1-1.3 0.4-1.3 0.5-0.4 0.5-0.1 0.5 0.2 0.5 0.5 0.3 0.6 0 0.8-0.5 1.4-1 0.9M281.2 273.6l-0.8 0.1-0.7-0.3-0.4-0.6 0-0.8 0.7-1.2 1-0.7 0.7-0.3 0.5 0.4 0.2 1.6-0.4 1.1-0.8 0.7M327.4 242.3l-1.7 0-1.7-0.6-3.6-2.7-0.8-0.8-0.4-0.7 0-1 0.7-1.3 2.4-2.4 1.8-1.6 1.9-1 5.7-2.7 2.3-0.8 2-0.3 2.2 0.2 2.5 0.7 2.7 1.3 1.7 1.4 0.4 1.2-0.4 1.6-1.6 1.7-2.1 1.7-2.7 1.5-5.5 2-4.2 2.1-1.6 0.5M354 229.3l-0.8 0-0.5-0.2-0.2-0.6 0.2-0.5 1-0.6 1.2 0.1 0.3 0.3 0 0.4-0.5 0.7-0.7 0.4M281.7 275.5l-1 0.2-1 0-0.7-0.3-0.8-0.6-1.1-1.8-0.4-1.5-0.1-1 0.4-1 1.5-1.5 0.6-1 1.1-3.5 0.6-1.3 1.2-1.2 1.2-0.3 1.5 0.8 1.5 1.5 0.6 1.5 0.1 2-0.5 2-1.9 4.5-1.2 1.5-1.6 1M326.7 243.3l-2.3-0.2-1.7-0.6-4.5-3.5-0.6-0.8-0.3-0.7 0.1-1.1 0.8-1.2 5.5-4.6 1.7-1 6.8-2.9 2.2-0.7 2-0.3 2.3 0.2 2.5 0.8 3.6 1.8 1.8 1.5 0.3 0.5 0 0.7-0.7 1.6-2 2-2.8 2-2.7 1.5-6 2.3-4.3 2.2-1.7 0.5M353.2 231l-1 0-0.8-0.2-0.7-0.6-0.3-0.4-0.1-0.8 0.3-1 0.6-0.9 0.8-0.6 1.2-0.5 1.5-0.2 4.7 0.2 0.8 0.2 0.4 0.3-0.2 0.7-0.5 0.6-5.1 2.7-1.6 0.5M282 276.8l-1.3 0.2-1.3-0.2-1.2-0.5-1-0.8-0.9-1.3-1-2.2-0.5-1.5-0.1-1 0.5-1.3 2.5-2.4 1.6-3.8 1.1-1.8 1.8-1.9 1.2-0.3 0.8 0.2 1 0.7 1.5 1.6 1 1.5 0.9 2.8 0.3 3.2-0.6 2-2.3 3.8-2 1.9-2 1.1M327 244.1l-3 0-2-0.5-5.3-4.4-0.5-0.7-0.3-0.7 0.2-1.6 1.1-1.4 5.2-4.4 1.8-1.1 8.2-3.3 3.8-0.9 1.8 0 1.7 0.3 6.3 2.7 1.4 0.4 1.3-0.4 2.6-2.3 1.9-0.7 7.2-0.5 1.4 0.4 0.7 0.8 0.2 0.7-0.3 0.7-0.6 0.8-1.1 0.7-6.7 3.1-1.8 0.2-2.8-0.1-1 0.3-5.7 4.4-2.3 1.5-2 0.9-5.2 2-4.5 2.4-1.7 0.7M282 278l-1.6 0.1-1.4-0.4-1.5-0.7-1.1-0.8-1-1.4-1.3-2.8-0.5-1.5-0.1-1.5 0.6-1.8 2.6-2.8 1.9-3.6 2.2-3.6 1.4-1.1 1.5-0.2 1.3 0.3 1.2 0.8 1.3 1.2 0.9 1.4 1 2.2 1 3.4 0.4 1.8 0 1.5-0.2 1-0.5 1.3-2.7 3.7-3.1 2.5-1.3 0.7-1 0.3M325.4 245l-2.7 0-1.7-0.7-2.7-2.5-2.9-2.3-0.6-0.7-0.3-1 0.3-1.6 1.3-1.7 5.9-4.8 1.7-1.1 9.5-3.5 3.8-0.8 1.4 0 1.6 0.3 4.7 2.1 2 0.5 1.5-0.3 3.2-2.1 2-0.5 7.6-0.6 1.7 0.5 0.9 1 0.2 1-0.4 1.3-0.8 1-1.2 0.7-7.2 3.2-1.6 0.4-3.2 0.3-1.2 0.4-8.2 5.4-6.8 2.7-5 2.8-1.2 0.4-1.6 0.2M282.2 279.3l-1.5-0.1-2-0.7-1.7-0.8-1.4-1.2-1.1-1.5-1.3-2.8-0.5-1.7-0.2-1.7 0.3-1.3 0.5-1.3 2.1-2.7 1.7-3 2.7-4.3 0.9-0.8 1-0.6 1-0.2 1.3-0.1 1.4 0.3 1.6 0.7 1.2 0.9 0.9 1.1 0.9 2 1.9 6 0.3 1.5 0.1 1.5-0.3 1.5-0.5 1.2-1.8 3-1 1.3-1.2 1-3.1 2-1.2 0.6-1 0.2M325 245.8l-2.6 0-1.7-0.6-3.3-3.1-3.6-2.3-0.6-0.8-0.2-0.8 0-0.7 0.4-1 1.2-1.7 6.6-5.7 1.8-1.2 1.4-0.7 4.3-1.1 5.5-1.9 3.2-0.7 1.6 0 1.2 0.3 4.2 1.9 1.8 0.5 1.5-0.2 2.7-1.5 1.8-0.7 7.8-0.9 1.4 0 1.3 0.4 1.1 0.7 0.6 0.8 0.4 1.2-0.3 1.2-0.9 1.3-1.3 1-8.1 3.5-4.8 0.9-1.4 0.5-2 1.1-4 2.9-2 1.2-6.8 2.6-5 2.9-1.2 0.4-2 0.3M283.7 280.5l-1.5 0.2-1.8-0.5-3.2-1.5-2-1.5-1.2-1.5-1.3-2.7-0.8-2.2-0.2-2 0.2-1.6 0.4-1.2 1.7-3.2 1.2-3 2.8-3.8 1.2-1.1 1.5-0.9 1.9-0.5 1.8-0.2 1.8 0.3 1.8 0.6 1 0.6 0.7 1 0.7 1.4 1.2 4 1.4 3.8 0.3 1.5 0.1 1.7-0.2 1.8-0.5 1.5-2.9 5.3-1.6 1.3-3.2 1.9-1.3 0.5M323.7 246.5l-2-0.1-1.5-0.5-3.5-3.4-1.5-0.8-3.7-1.5-0.7-0.4-0.4-0.8 0.2-0.8 0.6-1 1.8-2.2 4.3-3.5 3.1-3.1 1.8-1.2 2.2-0.9 5-1.2 6-2 2.8-0.5 2.2 0.3 4.3 2 1.7 0.4 1.3-0.3 2.7-1.2 1.8-0.6 7.2-1 1.6 0 1.4 0.3 1.2 0.5 1 0.8 0.7 1 0.3 1.2-0.3 1.5-1.1 1.4-1.5 1-8.3 3.5-5 1.1-1.7 0.6-2 1.2-5 3.5-2 0.9-5.3 2-5 3-1.7 0.5-3 0.3M283.2 282l-1.5-0.1-1.3-0.5-4.9-2.9-1.7-1.5-1.1-1.9-1.3-3.6-0.4-2.3 0.1-2.2 0.6-2 2.5-6.7 1-1.7 1.6-1.8 1.9-1.2 3.5-1 3-0.4 2.5 0.1 1.3 0.3 1 0.6 0.7 0.8 0.3 0.8 1.2 5.3 2 5.4 0.2 2-0.1 2.3-0.8 2.7-2.3 4.7-1 1.6-1.2 1-1.9 1-2.1 0.8-1.8 0.4M325.2 247l-3 0.2-2-0.4-1.2-0.9-2.3-2.4-1.3-0.7-2-0.6-4.2-0.5-1.5-0.5-0.7-0.6-0.5-0.6-0.1-0.8 0.1-0.4 0.7-0.8 8.8-6.3 1.2-1.2 2-2.4 1.5-1.1 3.3-1.4 6.2-1.4 6.5-2.1 2-0.3 1.7 0.2 1.6 0.6 2.7 1.4 1.7 0.4 1.3-0.3 3-1.1 1.7-0.4 6.8-1 1.8 0 1.4 0.3 1.6 0.6 1.2 0.9 0.8 1.1 0.4 1.5-0.3 1.5-1.1 1.5-1.6 1.1-8.7 3.7-5.3 1.3-1.7 0.6-2 1.2-3.5 2.6-1.8 1.1-7 2.6-4.7 3.1-1.5 0.4-2 0.3M282.7 283.3l-1.3 0-1-0.4-2.7-2.1-3.5-2.2-1.3-1.4-1-2-1.3-4.2-0.3-2.5 0.2-2.5 0.5-1.8 2.4-7 1.3-2.5 1-1.2 1.5-0.8 8-1.7 2-0.3 1.5 0.1 1.3 0.4 1.2 0.8 0.8 0.8 0.5 1 0.1 3.7 0.3 1.7 0.4 1.6 1.3 3 0.5 2 0.2 2.7-0.2 2.5-0.7 2.2-2.7 5.8-1 1.5-1 0.7-1.1 0.6-5.9 1.5M324 247.8l-2.6 0-1.7-0.5-1.3-0.8-2.2-2.3-1.8-0.9-1.7-0.2-4.5 0-2-0.6-1.2-0.9-1-1.4-0.5-1.4 0.1-1.3 0.8-0.8 4-1.4 6.1-3.5 1.7-1.6 2-2.8 1.5-1 4.5-1.7 6.2-1.2 6.8-2.3 1.8-0.1 1.7 0.1 1.5 0.6 2.8 1.4 1.7 0.3 6-1.6 6.5-0.9 1.8 0 1.7 0.4 1.7 0.8 1.3 0.8 1 1.2 0.5 1.6-0.3 1.7-1.2 1.7-1.7 1.2-9.3 3.9-6.7 1.9-2.3 1.2-4.5 3.4-2 1-5.5 1.9-4.5 3-2 0.6-3.2 0.5M280.7 285.3l-0.5 0-0.5-0.3-1.4-2.2-0.9-1-1.3-1-2.9-1.8-0.8-0.8-0.6-1-1.4-4.2-0.7-2.8-0.1-2.7 0.4-3 3.6-10.3 0.6-1.2 0.7-0.8 1.5-0.6 4.8-0.5 5.8-1.7 2.2 0 1.5 0.6 1.7 1.2 1.4 1.3 0.6 1 0 1-0.7 2.5 0 1.5 0.3 1.5 1.4 3.2 0.5 2 0.3 4.3-0.3 3-0.4 1.3-1.7 3-1.4 3.3-1.2 1.7-1.8 0.9-4.5 1.1-4.2 1.5M323.7 249.8l-2.5 0-2.2-0.4-1.6-0.7-2.7-2.1-1.7-0.5-1.3 0.1-1.2 0.3-3.5 1.8-1 0.1-1.3-0.2-1.7-1-2.3-2.6-1.3-0.9-1.2-0.4-3-0.2-0.7-0.3-0.4-0.8 0.1-1 0.8-1.2 2-1.3 0.7-0.7 2-4.6 0.7-1 1-0.9 1.3-0.6 3.5-1.2 0.8-0.6 1.9-2.4 2-1.3 1.8-0.5 7.5-1.8 4.2-1.8 4.6 0.1 1.4-0.1 5.8-2 3.2-0.5 1.8 0.1 1.2 0.2 3.6 1.8 1.4 0.3 1.8-0.2 4.8-1.1 6-0.4 2.7 0.5 3 1.2 1.9 1.2 1.4 1.8 0.5 1 0.2 1-0.3 1.8-1.5 2-1.9 1.4-1.8 0.8-4.2 1.5-4.6 1.9-7 2.3-2 1.2-2.8 2.9-1.6 1.1-2 0.8-5.4 1.5-3.9 2.6-1.5 0.7-2 0.6-3.5 0.7M276.8 290l-1.6-2.8-1.5-2-1.3-1.2-2.4-1.8-0.7-0.7-0.3-0.7-0.3-1.8-0.3-4.8-1.4-6.2 0-3.8 0.3-2 2.6-4.4 0.5-2 0.6-4 0.5-1 0.9-1 1.3-0.7 1.3-0.4 4-0.2 1.7-0.4 4.3-1.5 4-2 1.4-0.4 1.3 0 0.7 0.2 0.6 0.5 1.1 2.3 0.7 1 0.9 0.8 3 1.8 0.5 0.6 0.4 0.8 0.1 1.6-0.2 1.4-1.4 3-0.2 1 0.7 4 0.4 8.3-0.2 2.5-0.8 2.5-3.2 5.7-0.8 1.2-0.8 0.6-1 0.5-4.5 1.1-1.5 0.7-1.1 0.9-1.7 2.8M274.7 290l-1.1-1.8-1.4-1.4-1.5-0.9-3.3-1.2-0.7-0.5-0.6-1-0.1-1.4 0.4-5 0-2.5-0.3-1.8-1.5-4.3-0.2-5.7 0.3-1.3 0.4-1 2.4-2.7 0.7-1.3 0.2-1.4 0-3 0.3-1 0.5-1 1-1 1.2-0.9 2-0.8 3.8-1.2 1.6-1.1 0.8-1.3-0.1-3.3 0.2-0.7 0.5-0.5 1.5-0.5 3.7 0.1 2.6-0.2 2-0.6 2.2-1.1 1.4-0.9 1-1 2.5-4.3 2.1-2.1 12-6.8 4.5-1.8 0.6-0.6 1.3-1.7 1-1 1.4-0.8 1.4-0.5 1.3 0 1.3 0.2 4 2.2 2 0.6 1.4-0.2 4.6-1.1 4.2-0.8 1.8-0.2 2.2 0.5 3.2 1.9 1.3 0.4 5.5-0.8 6.2 0.3 3 0.7 3.8 1.2 1.5 0.9 1.3 1.2 1.6 2.6 0.3 1 0 1-0.3 1-0.6 1-1.9 2-1.4 1-1.7 0.9-5.3 1.8-11.6 4.5-1.7 1.2-2.4 3.4-1.8 1.2-2.5 0.8-5.1 1.2-5.4 2.8-5.8 1.7-2.4 0.3-3-0.4-2-0.7-3-1.7-1.3-0.2-1.5 0.4-2.4 2-1.1 0.7-1 0.3-2.3 0.1-1 0.5-0.4 0.6-0.2 0.8-0.1 4-1.1 4-0.4 2.2-0.4 9.8-0.5 2-0.8 2-3.5 6.4-0.8 1-1.5 0.8-3.5 0.6-1.8 0.6-1 0.8-1.2 1.8M264.2 257.3l1-2.1 0.3-3.7 0.9-2.3 1-1.3 1.3-1.1 4.1-2 1.4-1.1 0.5-0.7 0.2-0.8 0.2-3.2 0.4-0.8 0.7-0.7 1.5-1 1.7-0.6 1.8-0.3 3.2-0.1 1.8-0.2 2.6-0.8 2.2-1 1.4-1.4 2.2-3.9 2.8-2.7 2.1-2.5 1.2-0.9 3.3-1.5 1.2-1 0.7-1.1 0.7-2.7 0.7-1 0.9-0.6 4-1.4 4.5-1.2 1.2-0.8 1.8-1.9 1.3-0.7 1.7-0.1 1.7 0.7 0.6 0.4 1.1 2 1 1.3 1.1 0.9 1.2 0.5 7 0 4.3-1 1.7 0 2.3 0.5 4.7 1.8 1.8 0.4 8.2 1.1 6.8 1.3 5.5-0.1 0.7 0.3 0.5 0.6 0.2 2.7 0.6 1.8M373.7 228.8l-2.4 2.4-3.6 2.4-6.5 2.2-7.7 3-2 1-1.9 1.4-1.8 2.8-0.9 1-1.4 1-2.1 0.9-14 4.6-4.2 1.8-1.2 0.4-1.6 0-1.7-0.2-3.5-0.9-3.5-1.1-1 0.1-1 0.5-3.2 2.7-0.9 1-1.6 3.2-2 3.6-0.6 2.2-0.5 8-0.4 2.2-1.4 4.2-2.2 4.6-0.3 1.2-0.1 2.5-0.3 1-0.8 0.8-1.2 0.3-3.5-1-1.7 0-1.3 0.4-1 1M329.4 262.5l-1.2 0.1-1.2-0.5-0.8-0.6 0-0.7 0.5-0.6 0.7-0.2 1 0 1 0.3 0.8 0.7 0.2 0.5-0.2 0.6-0.8 0.4M319.7 264.3l-1.7 0.1-2.1-0.4-1.2-0.8-0.2-0.4 0-0.6 0.3-0.4 0.6-0.6 1.8-0.6 2.5-0.4 1.8 0.3 0.9 0.8 0.2 0.5-0.3 0.7-1.1 1.2-1.5 0.6M272.4 290l-0.7-0.8-1-0.7-4.3-1-1.2-0.7-1-1M264.2 247.2l4.1-4.2 0.4-1-0.3-2.2 0.2-1 0.5-1 1.3-1.3 1.8-1.2 1.5-0.7 4.6-1.1 3.9-1.4 3.2-0.3 1.6-0.7 1.4-1.6 2.1-3.7 3.5-3.1 2.4-3.4 1.3-0.9 2.5-0.9 0.8-0.5 0.5-0.8 0.8-2.4 0.7-1.3 1.4-1.7 2.8-2.5 1.2-0.9 1.3-0.5 3.7-0.5 1.3-0.4 1.2-1 1.4-2.2 0.9-1 1.2-0.5 3.3 0 1.7-0.4 1.4-0.9 2.6-2.8 1.6-0.7 1.4-0.1 1.6 0.5 2.2 1.3 1.5 1.3 0.8 1.5 1.7 6.8 0.5 0.7 0.5 0.3 5.6 2 4.2 1.1 8 2.6 3.1 0.7 3.6 0.5 6-0.8 1.5 0 1.5 0.3M373.7 232l-5.3 3.2-6.3 2.3-7.2 3.3-1.7 1.2-2.9 3.2-1.5 1.3-1.8 1-6 2.5-1.9 1.2-3.4 2.9-1 0.1-3-0.6-1 0.2-1 0.4-0.4 0.6-0.1 0.4 0.2 0.6 0.7 0.4 1.3 0.5 1.3 0.2 2.7-0.1 0.6 0.2 0.5 0.8 0.2 1-0.6 4.7-0.4 1-1 0.8-1.7 0.5-5.3 0.7-4.5 1.4-1.8 0.2-2.7 0-4.3-0.5-3.7-0.8-1.5-1-1.2-1.9-0.8 0-0.6 1.1-0.1 2.8-1 7-0.4 1.2-1.6 3.5-0.7 2.5-0.2 1.8 0.1 3.4-0.6 2.8"/></g>
<rect x="266.2" y="177.5" width="105.60000000000002" height="110.69999999999999" fill="none" stroke="#555" stroke-width="0.9"/>
<path d="M266.20,288.20v2.2 M266.20,288.20h-2.2 M274.15,288.20v1.2 M266.20,279.87h-1.2 M278.80,288.20v1.2 M266.20,275.00h-1.2 M282.09,288.20v1.2 M266.20,271.54h-1.2 M284.65,288.20v1.2 M266.20,268.86h-1.2 M286.74,288.20v1.2 M266.20,266.66h-1.2 M288.51,288.20v1.2 M266.20,264.81h-1.2 M290.04,288.20v1.2 M266.20,263.21h-1.2 M291.39,288.20v1.2 M266.20,261.79h-1.2 M292.60,288.20v2.2 M266.20,260.52h-2.2 M300.55,288.20v1.2 M266.20,252.19h-1.2 M305.20,288.20v1.2 M266.20,247.32h-1.2 M308.49,288.20v1.2 M266.20,243.86h-1.2 M311.05,288.20v1.2 M266.20,241.18h-1.2 M313.14,288.20v1.2 M266.20,238.99h-1.2 M314.91,288.20v1.2 M266.20,237.14h-1.2 M316.44,288.20v1.2 M266.20,235.53h-1.2 M317.79,288.20v1.2 M266.20,234.12h-1.2 M319.00,288.20v2.2 M266.20,232.85h-2.2 M326.95,288.20v1.2 M266.20,224.52h-1.2 M331.60,288.20v1.2 M266.20,219.65h-1.2 M334.89,288.20v1.2 M266.20,216.19h-1.2 M337.45,288.20v1.2 M266.20,213.51h-1.2 M339.54,288.20v1.2 M266.20,211.31h-1.2 M341.31,288.20v1.2 M266.20,209.46h-1.2 M342.84,288.20v1.2 M266.20,207.86h-1.2 M344.19,288.20v1.2 M266.20,206.44h-1.2 M345.40,288.20v2.2 M266.20,205.18h-2.2 M353.35,288.20v1.2 M266.20,196.84h-1.2 M358.00,288.20v1.2 M266.20,191.97h-1.2 M361.29,288.20v1.2 M266.20,188.51h-1.2 M363.85,288.20v1.2 M266.20,185.83h-1.2 M365.94,288.20v1.2 M266.20,183.64h-1.2 M367.71,288.20v1.2 M266.20,181.79h-1.2 M369.24,288.20v1.2 M266.20,180.18h-1.2 M370.59,288.20v1.2 M266.20,178.77h-1.2 M371.80,288.20v2.2 M266.20,177.50h-2.2" stroke="#333" stroke-width="0.6" fill="none"/>
<path d="M294,251.1V194.8H371.8 M294,251.1H345.2 M345.2,194.8V288.2 M345.2,241.6H371.8 M345.2,256.5H371.8" fill="none" stroke="#444" stroke-width="0.8"/>
<text x="297.5" y="204.6" font-size="8.6" text-anchor="start" font-weight="bold" >I</text>
<text x="305.9" y="204.6" font-size="8.6" text-anchor="start" >58.7</text>
<text x="349.8" y="204.7" font-size="8.6" text-anchor="start" font-weight="bold" >II</text>
<text x="371.5" y="204.7" font-size="8.6" text-anchor="end" >13.6</text>
<text x="349.2" y="254.1" font-size="8.6" text-anchor="start" font-weight="bold" >III</text>
<text x="358.4" y="254.1" font-size="8.6" text-anchor="start" >0.2</text>
<text x="370.8" y="267.1" font-size="8.6" text-anchor="end" >0.09</text>
<text x="354.4" y="284.2" font-size="8.6" text-anchor="start" font-weight="bold" >IV</text>
<text x="408.2" y="21.9" font-size="10.5" text-anchor="start" >Day +8</text>
<line x1="403.10" y1="28.20" x2="403.10" y2="136.00" stroke="#000" stroke-width="1.0"/>
<line x1="403.10" y1="136.00" x2="518.70" y2="136.00" stroke="#000" stroke-width="1.0"/>
<line x1="400.60" y1="136.00" x2="403.10" y2="136.00" stroke="#000" stroke-width="0.8"/>
<text x="399.5" y="138.4" font-size="6.8" text-anchor="end" fill="#222">0</text>
<line x1="400.60" y1="120.60" x2="403.10" y2="120.60" stroke="#000" stroke-width="0.8"/>
<text x="399.5" y="123.0" font-size="6.8" text-anchor="end" fill="#222">10</text>
<line x1="400.60" y1="105.20" x2="403.10" y2="105.20" stroke="#000" stroke-width="0.8"/>
<text x="399.5" y="107.6" font-size="6.8" text-anchor="end" fill="#222">20</text>
<line x1="400.60" y1="89.80" x2="403.10" y2="89.80" stroke="#000" stroke-width="0.8"/>
<text x="399.5" y="92.2" font-size="6.8" text-anchor="end" fill="#222">30</text>
<line x1="400.60" y1="74.40" x2="403.10" y2="74.40" stroke="#000" stroke-width="0.8"/>
<text x="399.5" y="76.8" font-size="6.8" text-anchor="end" fill="#222">40</text>
<line x1="400.60" y1="59.00" x2="403.10" y2="59.00" stroke="#000" stroke-width="0.8"/>
<text x="399.5" y="61.4" font-size="6.8" text-anchor="end" fill="#222">50</text>
<line x1="400.60" y1="43.60" x2="403.10" y2="43.60" stroke="#000" stroke-width="0.8"/>
<text x="399.5" y="46.0" font-size="6.8" text-anchor="end" fill="#222">60</text>
<line x1="400.60" y1="28.20" x2="403.10" y2="28.20" stroke="#000" stroke-width="0.8"/>
<text x="399.5" y="30.6" font-size="6.8" text-anchor="end" fill="#222">70</text>
<text x="385.3" y="82.5" font-size="7.6" text-anchor="middle" font-weight="bold" transform="rotate(-90 385.3 82.5)">Erythroid Progenitor (%)</text>
<rect x="409.10" y="61.31" width="8.40" height="74.69" fill="#fff" stroke="#000" stroke-width="0.9"/>
<line x1="413.30" y1="61.31" x2="413.30" y2="57.00" stroke="#000" stroke-width="1.0"/>
<line x1="411.30" y1="57.00" x2="415.30" y2="57.00" stroke="#000" stroke-width="1.1"/>
<rect x="417.50" y="59.00" width="8.60" height="77.00" fill="#000" stroke="#000" stroke-width="0.9"/>
<line x1="421.80" y1="59.00" x2="421.80" y2="58.08" stroke="#000" stroke-width="1.0"/>
<line x1="419.80" y1="58.08" x2="423.80" y2="58.08" stroke="#000" stroke-width="1.1"/>
<rect x="437.10" y="131.84" width="8.30" height="4.16" fill="#fff" stroke="#000" stroke-width="0.9"/>
<line x1="441.25" y1="131.84" x2="441.25" y2="130.30" stroke="#000" stroke-width="1.0"/>
<line x1="439.25" y1="130.30" x2="443.25" y2="130.30" stroke="#000" stroke-width="1.1"/>
<rect x="445.40" y="132.00" width="8.60" height="4.00" fill="#000" stroke="#000" stroke-width="0.9"/>
<line x1="449.70" y1="132.00" x2="449.70" y2="130.76" stroke="#000" stroke-width="1.0"/>
<line x1="447.70" y1="130.76" x2="451.70" y2="130.76" stroke="#000" stroke-width="1.1"/>
<rect x="465.60" y="135.54" width="8.00" height="0.46" fill="#fff" stroke="#000" stroke-width="0.9"/>
<rect x="473.60" y="135.69" width="8.00" height="0.31" fill="#000" stroke="#000" stroke-width="0.9"/>
<rect x="493.50" y="135.85" width="8.00" height="0.15" fill="#fff" stroke="#000" stroke-width="0.9"/>
<rect x="501.50" y="135.85" width="8.00" height="0.15" fill="#000" stroke="#000" stroke-width="0.9"/>
<text x="417.7" y="150.1" font-size="7.5" text-anchor="middle" font-weight="bold" >I</text>
<text x="446.0" y="150.1" font-size="7.5" text-anchor="middle" font-weight="bold" >II</text>
<text x="472.9" y="150.1" font-size="7.5" text-anchor="middle" font-weight="bold" >III</text>
<text x="502.5" y="150.1" font-size="7.5" text-anchor="middle" font-weight="bold" >IV</text>
<rect x="466.80" y="35.50" width="5.80" height="5.40" fill="#fff" stroke="#000" stroke-width="0.9"/>
<rect x="466.50" y="46.30" width="6.20" height="5.20" fill="#000" stroke="#000" stroke-width="0"/>
<text x="473.5" y="41.0" font-size="7.7" text-anchor="start" >EPO</text>
<text x="473.5" y="51.6" font-size="7.7" text-anchor="start" >EPO + NmL</text>
<text x="404.0" y="173.0" font-size="10.5" text-anchor="start" >Day +10</text>
<line x1="400.40" y1="177.10" x2="400.40" y2="289.40" stroke="#000" stroke-width="1.0"/>
<line x1="400.40" y1="289.40" x2="517.30" y2="289.40" stroke="#000" stroke-width="1.0"/>
<line x1="397.90" y1="289.40" x2="400.40" y2="289.40" stroke="#000" stroke-width="0.8"/>
<text x="397.3" y="291.8" font-size="6.8" text-anchor="end" fill="#222">0</text>
<line x1="397.90" y1="273.27" x2="400.40" y2="273.27" stroke="#000" stroke-width="0.8"/>
<text x="397.3" y="275.7" font-size="6.8" text-anchor="end" fill="#222">10</text>
<line x1="397.90" y1="257.14" x2="400.40" y2="257.14" stroke="#000" stroke-width="0.8"/>
<text x="397.3" y="259.5" font-size="6.8" text-anchor="end" fill="#222">20</text>
<line x1="397.90" y1="241.01" x2="400.40" y2="241.01" stroke="#000" stroke-width="0.8"/>
<text x="397.3" y="243.4" font-size="6.8" text-anchor="end" fill="#222">30</text>
<line x1="397.90" y1="224.88" x2="400.40" y2="224.88" stroke="#000" stroke-width="0.8"/>
<text x="397.3" y="227.3" font-size="6.8" text-anchor="end" fill="#222">40</text>
<line x1="397.90" y1="208.75" x2="400.40" y2="208.75" stroke="#000" stroke-width="0.8"/>
<text x="397.3" y="211.1" font-size="6.8" text-anchor="end" fill="#222">50</text>
<line x1="397.90" y1="192.62" x2="400.40" y2="192.62" stroke="#000" stroke-width="0.8"/>
<text x="397.3" y="195.0" font-size="6.8" text-anchor="end" fill="#222">60</text>
<line x1="397.90" y1="176.49" x2="400.40" y2="176.49" stroke="#000" stroke-width="0.8"/>
<text x="397.3" y="178.9" font-size="6.8" text-anchor="end" fill="#222">70</text>
<text x="383.0" y="238.0" font-size="7.4" text-anchor="middle" font-weight="bold" transform="rotate(-90 383 238)">Erythroid Progenitor (%)</text>
<rect x="405.60" y="222.46" width="8.60" height="66.94" fill="#fff" stroke="#000" stroke-width="0.9"/>
<line x1="409.90" y1="222.46" x2="409.90" y2="213.11" stroke="#000" stroke-width="1.0"/>
<line x1="407.90" y1="213.11" x2="411.90" y2="213.11" stroke="#000" stroke-width="1.1"/>
<rect x="414.20" y="196.81" width="9.40" height="92.59" fill="#000" stroke="#000" stroke-width="0.9"/>
<line x1="418.90" y1="196.81" x2="418.90" y2="193.43" stroke="#000" stroke-width="1.0"/>
<line x1="416.90" y1="193.43" x2="420.90" y2="193.43" stroke="#000" stroke-width="1.1"/>
<rect x="435.20" y="249.88" width="8.60" height="39.52" fill="#fff" stroke="#000" stroke-width="0.9"/>
<line x1="439.50" y1="249.88" x2="439.50" y2="244.24" stroke="#000" stroke-width="1.0"/>
<line x1="437.50" y1="244.24" x2="441.50" y2="244.24" stroke="#000" stroke-width="1.1"/>
<rect x="443.80" y="272.14" width="8.90" height="17.26" fill="#000" stroke="#000" stroke-width="0.9"/>
<line x1="448.25" y1="272.14" x2="448.25" y2="265.37" stroke="#000" stroke-width="1.0"/>
<line x1="446.25" y1="265.37" x2="450.25" y2="265.37" stroke="#000" stroke-width="1.1"/>
<rect x="465.00" y="288.59" width="8.00" height="0.81" fill="#fff" stroke="#000" stroke-width="0.9"/>
<rect x="473.00" y="288.75" width="8.00" height="0.65" fill="#000" stroke="#000" stroke-width="0.9"/>
<rect x="493.00" y="288.92" width="8.00" height="0.48" fill="#fff" stroke="#000" stroke-width="0.9"/>
<rect x="501.00" y="288.43" width="8.00" height="0.97" fill="#000" stroke="#000" stroke-width="0.9"/>
<path d="M408.6,205.9 V186.7 H418.2 V191.4" fill="none" stroke="#000" stroke-width="1"/>
<path d="M412.50,182.80L412.50,180.50M412.50,182.80L414.69,182.09M412.50,182.80L413.85,184.66M412.50,182.80L411.15,184.66M412.50,182.80L410.31,182.09" stroke="#000" stroke-width="1.3" stroke-linecap="round" fill="none"/>
<path d="M438.7,240.5 V236.5 H448.5 V255.2" fill="none" stroke="#000" stroke-width="1"/>
<path d="M443.90,232.30L443.90,230.00M443.90,232.30L446.09,231.59M443.90,232.30L445.25,234.16M443.90,232.30L442.55,234.16M443.90,232.30L441.71,231.59" stroke="#000" stroke-width="1.3" stroke-linecap="round" fill="none"/>
<text x="415.0" y="299.9" font-size="7.5" text-anchor="middle" font-weight="bold" >I</text>
<text x="443.8" y="299.9" font-size="7.5" text-anchor="middle" font-weight="bold" >II</text>
<text x="472.9" y="299.9" font-size="7.5" text-anchor="middle" font-weight="bold" >III</text>
<text x="502.5" y="299.9" font-size="7.5" text-anchor="middle" font-weight="bold" >IV</text>
<rect x="471.60" y="185.40" width="5.20" height="5.20" fill="#fff" stroke="#000" stroke-width="0.9"/>
<rect x="471.30" y="194.90" width="5.60" height="5.00" fill="#000" stroke="#000" stroke-width="0"/>
<text x="477.5" y="190.6" font-size="7.6" text-anchor="start" >EPO</text>
<text x="477.5" y="199.7" font-size="7.55" text-anchor="start" >EPO + NmU</text>
<line x1="48.10" y1="333.70" x2="48.10" y2="431.70" stroke="#000" stroke-width="1.0"/>
<line x1="48.10" y1="431.70" x2="181.00" y2="431.70" stroke="#000" stroke-width="1.0"/>
<line x1="45.60" y1="431.70" x2="48.10" y2="431.70" stroke="#000" stroke-width="0.8"/>
<text x="43.2" y="433.9" font-size="6.3" text-anchor="end" fill="#222">0</text>
<line x1="45.60" y1="415.40" x2="48.10" y2="415.40" stroke="#000" stroke-width="0.8"/>
<text x="43.2" y="417.6" font-size="6.3" text-anchor="end" fill="#222">10</text>
<line x1="45.60" y1="399.10" x2="48.10" y2="399.10" stroke="#000" stroke-width="0.8"/>
<text x="43.2" y="401.3" font-size="6.3" text-anchor="end" fill="#222">20</text>
<line x1="45.60" y1="382.80" x2="48.10" y2="382.80" stroke="#000" stroke-width="0.8"/>
<text x="43.2" y="385.0" font-size="6.3" text-anchor="end" fill="#222">30</text>
<line x1="45.60" y1="366.50" x2="48.10" y2="366.50" stroke="#000" stroke-width="0.8"/>
<text x="43.2" y="368.7" font-size="6.3" text-anchor="end" fill="#222">40</text>
<line x1="45.60" y1="350.20" x2="48.10" y2="350.20" stroke="#000" stroke-width="0.8"/>
<text x="43.2" y="352.4" font-size="6.3" text-anchor="end" fill="#222">50</text>
<line x1="45.60" y1="333.90" x2="48.10" y2="333.90" stroke="#000" stroke-width="0.8"/>
<text x="43.2" y="336.1" font-size="6.3" text-anchor="end" fill="#222">60</text>
<line x1="47.90" y1="431.70" x2="47.90" y2="434.20" stroke="#000" stroke-width="0.8"/>
<text x="47.9" y="443.6" font-size="7" text-anchor="middle" fill="#222">0</text>
<line x1="74.38" y1="431.70" x2="74.38" y2="434.20" stroke="#000" stroke-width="0.8"/>
<text x="74.4" y="443.6" font-size="7" text-anchor="middle" fill="#222">2</text>
<line x1="100.86" y1="431.70" x2="100.86" y2="434.20" stroke="#000" stroke-width="0.8"/>
<text x="100.9" y="443.6" font-size="7" text-anchor="middle" fill="#222">4</text>
<line x1="127.34" y1="431.70" x2="127.34" y2="434.20" stroke="#000" stroke-width="0.8"/>
<text x="127.3" y="443.6" font-size="7" text-anchor="middle" fill="#222">6</text>
<line x1="153.82" y1="431.70" x2="153.82" y2="434.20" stroke="#000" stroke-width="0.8"/>
<text x="153.8" y="443.6" font-size="7" text-anchor="middle" fill="#222">8</text>
<line x1="180.30" y1="431.70" x2="180.30" y2="434.20" stroke="#000" stroke-width="0.8"/>
<text x="180.3" y="443.6" font-size="7" text-anchor="middle" fill="#222">10</text>
<text x="114.7" y="460.6" font-size="8.4" text-anchor="middle" font-weight="bold" >Days in culture</text>
<text x="27.3" y="386.8" font-size="7.7" text-anchor="middle" transform="rotate(-90 27.3 386.8)">Fold Expansion</text>
<path d="M47.90,430.07 C50.11,430.21 56.73,430.83 61.14,430.88 C65.55,430.94 69.97,430.48 74.38,430.40 C78.79,430.31 78.79,431.21 87.62,430.40 C96.45,429.58 118.51,426.46 127.34,425.51 C136.17,424.56 136.17,424.83 140.58,424.69 C144.99,424.56 149.41,425.67 153.82,424.69 C158.23,423.71 162.65,426.21 167.06,418.82 C171.47,411.43 178.09,386.77 180.30,380.36" fill="none" stroke="#000" stroke-width="1.5"/>
<path d="M47.90,430.07 C50.11,430.21 56.73,430.83 61.14,430.88 C65.55,430.94 69.97,430.48 74.38,430.40 C78.79,430.31 78.79,431.21 87.62,430.40 C96.45,429.58 118.51,426.92 127.34,425.51 C136.17,424.09 136.17,423.06 140.58,421.92 C144.99,420.78 149.41,424.91 153.82,418.66 C158.23,412.41 162.65,395.65 167.06,384.43 C171.47,373.21 178.09,356.86 180.30,351.34" fill="none" stroke="#000" stroke-width="1.5"/>
<circle cx="47.90" cy="430.07" r="1.9" fill="#fff" stroke="#000" stroke-width="0.9"/>
<circle cx="61.14" cy="430.88" r="1.9" fill="#fff" stroke="#000" stroke-width="0.9"/>
<circle cx="74.38" cy="430.40" r="1.9" fill="#fff" stroke="#000" stroke-width="0.9"/>
<circle cx="87.62" cy="430.40" r="1.9" fill="#fff" stroke="#000" stroke-width="0.9"/>
<circle cx="127.34" cy="425.51" r="1.9" fill="#fff" stroke="#000" stroke-width="0.9"/>
<circle cx="140.58" cy="424.69" r="1.9" fill="#fff" stroke="#000" stroke-width="0.9"/>
<circle cx="153.82" cy="424.69" r="1.9" fill="#fff" stroke="#000" stroke-width="0.9"/>
<circle cx="167.06" cy="418.82" r="1.9" fill="#fff" stroke="#000" stroke-width="0.9"/>
<circle cx="180.30" cy="380.36" r="1.9" fill="#fff" stroke="#000" stroke-width="0.9"/>
<circle cx="47.90" cy="430.07" r="2.15" fill="#000"/>
<circle cx="61.14" cy="430.88" r="2.15" fill="#000"/>
<circle cx="74.38" cy="430.40" r="2.15" fill="#000"/>
<circle cx="87.62" cy="430.40" r="2.15" fill="#000"/>
<circle cx="127.34" cy="425.51" r="2.15" fill="#000"/>
<circle cx="140.58" cy="421.92" r="2.15" fill="#000"/>
<circle cx="153.82" cy="418.66" r="2.15" fill="#000"/>
<circle cx="167.06" cy="384.43" r="2.15" fill="#000"/>
<circle cx="180.30" cy="351.34" r="2.15" fill="#000"/>
<circle cx="55.9" cy="341.0" r="1.8" fill="#fff" stroke="#000" stroke-width="0.9"/>
<circle cx="55.9" cy="351.0" r="2.1" fill="#000"/>
<text x="62.0" y="343.6" font-size="8.0" text-anchor="start" >EPO</text>
<text x="62.0" y="354.0" font-size="8.0" text-anchor="start" >EPO + NmU</text>
<line x1="236.50" y1="331.70" x2="236.50" y2="432.10" stroke="#000" stroke-width="1.0"/>
<line x1="236.50" y1="432.10" x2="390.50" y2="432.10" stroke="#888" stroke-width="0.9"/>
<line x1="234.00" y1="432.10" x2="236.50" y2="432.10" stroke="#000" stroke-width="0.8"/>
<text x="231.5" y="434.5" font-size="7" text-anchor="end" fill="#222">0</text>
<line x1="234.00" y1="415.36" x2="236.50" y2="415.36" stroke="#000" stroke-width="0.8"/>
<text x="231.5" y="417.8" font-size="7" text-anchor="end" fill="#222">10</text>
<line x1="234.00" y1="398.62" x2="236.50" y2="398.62" stroke="#000" stroke-width="0.8"/>
<text x="231.5" y="401.0" font-size="7" text-anchor="end" fill="#222">20</text>
<line x1="234.00" y1="381.88" x2="236.50" y2="381.88" stroke="#000" stroke-width="0.8"/>
<text x="231.5" y="384.3" font-size="7" text-anchor="end" fill="#222">30</text>
<line x1="234.00" y1="365.14" x2="236.50" y2="365.14" stroke="#000" stroke-width="0.8"/>
<text x="231.5" y="367.5" font-size="7" text-anchor="end" fill="#222">40</text>
<line x1="234.00" y1="348.40" x2="236.50" y2="348.40" stroke="#000" stroke-width="0.8"/>
<text x="231.5" y="350.8" font-size="7" text-anchor="end" fill="#222">50</text>
<line x1="234.00" y1="331.66" x2="236.50" y2="331.66" stroke="#000" stroke-width="0.8"/>
<text x="231.5" y="334.1" font-size="7" text-anchor="end" fill="#222">60</text>
<text x="212.2" y="379.4" font-size="7.75" text-anchor="middle" transform="rotate(-90 212.2 379.4)">Mean Fold Expansion</text>
<rect x="253.20" y="424.23" width="21.80" height="7.87" fill="#fff" stroke="#000" stroke-width="0.9"/>
<line x1="264.10" y1="424.23" x2="264.10" y2="423.06" stroke="#000" stroke-width="1.0"/>
<line x1="262.10" y1="423.06" x2="266.10" y2="423.06" stroke="#000" stroke-width="1.1"/>
<rect x="275.00" y="421.05" width="22.80" height="11.05" fill="#000" stroke="#000" stroke-width="0.9"/>
<line x1="286.40" y1="421.05" x2="286.40" y2="419.04" stroke="#000" stroke-width="1.0"/>
<line x1="284.40" y1="419.04" x2="288.40" y2="419.04" stroke="#000" stroke-width="1.1"/>
<rect x="330.40" y="395.77" width="21.50" height="36.33" fill="#fff" stroke="#000" stroke-width="0.9"/>
<line x1="341.15" y1="395.77" x2="341.15" y2="387.74" stroke="#000" stroke-width="1.0"/>
<line x1="339.15" y1="387.74" x2="343.15" y2="387.74" stroke="#000" stroke-width="1.1"/>
<rect x="351.90" y="368.49" width="22.50" height="63.61" fill="#000" stroke="#000" stroke-width="0.9"/>
<line x1="363.15" y1="368.49" x2="363.15" y2="357.10" stroke="#000" stroke-width="1.0"/>
<line x1="361.15" y1="357.10" x2="365.15" y2="357.10" stroke="#000" stroke-width="1.1"/>
<path d="M339.5,375.1 V344.5 H363.5 V350.8" fill="none" stroke="#000" stroke-width="1"/>
<path d="M349.60,338.70L349.60,336.10M349.60,338.70L352.07,337.90M349.60,338.70L351.13,340.80M349.60,338.70L348.07,340.80M349.60,338.70L347.13,337.90" stroke="#000" stroke-width="1.3" stroke-linecap="round" fill="none"/>
<text x="275.3" y="445.0" font-size="7.5" text-anchor="middle" >8</text>
<text x="352.5" y="445.0" font-size="7.5" text-anchor="middle" >10</text>
<text x="309.0" y="458.7" font-size="8.6" text-anchor="middle" font-weight="bold" >Days in Culture</text>
<rect x="242.30" y="336.90" width="6.60" height="6.00" fill="#fff" stroke="#000" stroke-width="0.9"/>
<rect x="241.90" y="348.70" width="7.30" height="6.10" fill="#000" stroke="#000" stroke-width="0"/>
<text x="250.5" y="342.6" font-size="8.2" text-anchor="start" >EPO</text>
<text x="250.5" y="354.5" font-size="8.2" text-anchor="start" >EPO + NmU</text>
</svg></body></html>
